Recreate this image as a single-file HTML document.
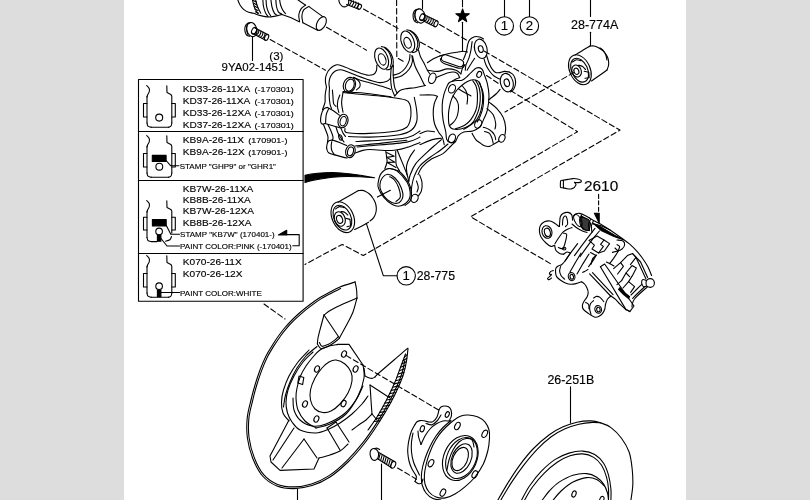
<!DOCTYPE html>
<html><head><meta charset="utf-8"><title>Rear axle parts diagram</title>
<style>
html,body{margin:0;padding:0;background:#ddd;}
body{width:810px;height:500px;overflow:hidden;position:relative;font-family:"Liberation Sans",sans-serif;}
#page{position:absolute;left:124px;top:0;width:562px;height:500px;background:#fff;}
svg{position:absolute;left:0;top:0;transform:translateZ(0);}
svg path,svg ellipse,svg circle,svg rect{fill:none;stroke:#000;stroke-width:1.1;stroke-linecap:round;stroke-linejoin:round;}
svg text{font-family:"Liberation Sans",sans-serif;fill:#000;stroke:#000;stroke-width:0.14;}
svg text.b{stroke:#000;stroke-width:0.15;}
svg .k{fill:#000;}
svg .w{fill:#fff;}
</style></head><body>
<div id="page"></div>
<svg width="810" height="500" viewBox="0 0 810 500">
<!-- p01_table -->
<g>
<rect x="138.5" y="79.5" width="164.6" height="221.8" stroke-width="1.05"/>
<path d="M138.5 131.5 L303.1 131.5" stroke-width="1"/>
<path d="M138.5 180.5 L303.1 180.5" stroke-width="1"/>
<path d="M138.5 253.5 L303.1 253.5" stroke-width="1"/>
<path d="M146.7 85.5C147.1 86.0 148.8 87.5 149.2 88.5C149.6 89.5 149.5 90.5 149.3 91.5C149.1 92.5 148.2 93.6 147.8 94.5C147.4 95.4 147.1 96.6 147.0 97.0" stroke-width="1"/>
<path d="M147.0 96.5L147.0 123.0" stroke-width="1"/>
<path d="M147.0 123.0C147.2 123.5 147.3 125.5 148.0 126.2C148.7 126.9 150.8 127.1 151.4 127.3" stroke-width="1"/>
<path d="M151.4 127.3L168.5 127.3" stroke-width="1"/>
<path d="M168.5 127.3C168.9 127.1 170.4 126.7 171.0 126.0C171.6 125.3 171.7 123.5 171.8 123.0" stroke-width="1"/>
<path d="M171.8 123.0L171.8 96.0L170.8 94.4L167.0 92.6L166.8 85.7" stroke-width="1"/>
<path d="M147.0 103.5L143.5 103.5L143.5 117.0L147.0 117.0" stroke-width="0.9"/>
<path d="M171.8 103.5L175.3 103.5L175.3 117.0L171.8 117.0" stroke-width="0.9" stroke="#777"/>
<ellipse cx="159.2" cy="117.6" rx="3.5" ry="3.5" stroke-width="1"/>
<path d="M146.7 135.5C147.1 136.0 148.8 137.5 149.2 138.5C149.6 139.5 149.5 140.5 149.3 141.5C149.1 142.5 148.2 143.6 147.8 144.5C147.4 145.4 147.1 146.6 147.0 147.0" stroke-width="1"/>
<path d="M147.0 146.5L147.0 173.0" stroke-width="1"/>
<path d="M147.0 173.0C147.2 173.5 147.3 175.5 148.0 176.2C148.7 176.9 150.8 177.1 151.4 177.3" stroke-width="1"/>
<path d="M151.4 177.3L168.5 177.3" stroke-width="1"/>
<path d="M168.5 177.3C168.9 177.1 170.4 176.7 171.0 176.0C171.6 175.3 171.7 173.5 171.8 173.0" stroke-width="1"/>
<path d="M171.8 173.0L171.8 146.0L170.8 144.4L167.0 142.6L166.8 135.7" stroke-width="1"/>
<path d="M147.0 153.5L143.5 153.5L143.5 167.0L147.0 167.0" stroke-width="0.9"/>
<path d="M171.8 153.5L175.3 153.5L175.3 167.0L171.8 167.0" stroke-width="0.9" stroke="#777"/>
<rect x="152.3" y="155.4" width="13.8" height="6.1" class="k" stroke-width="0.5"/>
<ellipse cx="159.3" cy="166.7" rx="3.4" ry="3.4" stroke-width="1"/>
<path d="M166.1 160.5L170.8 165.8L179.0 165.8" stroke-width="1"/>
<path d="M146.7 200.5C147.1 201.0 148.8 202.5 149.2 203.5C149.6 204.5 149.5 205.5 149.3 206.5C149.1 207.5 148.2 208.6 147.8 209.5C147.4 210.4 147.1 211.6 147.0 212.0" stroke-width="1"/>
<path d="M147.0 211.5L147.0 237.5" stroke-width="1"/>
<path d="M147.0 237.5C147.2 238.0 147.3 239.9 148.0 240.6C148.7 241.3 150.8 241.4 151.4 241.6" stroke-width="1"/>
<path d="M151.4 241.6L157.0 241.6" stroke-width="1"/>
<path d="M165.5 241.2C166.2 241.0 168.8 240.6 169.8 239.8C170.8 239.0 171.2 237.1 171.5 236.5" stroke-width="1"/>
<path d="M171.8 233.0L171.8 211.0L170.8 209.4L167.0 207.6L166.8 200.7" stroke-width="1"/>
<path d="M147.0 217.3L143.5 217.3L143.5 230.0L147.0 230.0" stroke-width="0.9"/>
<path d="M171.8 217.3L175.3 217.3L175.3 230.0L171.8 230.0" stroke-width="0.9" stroke="#777"/>
<rect x="152.4" y="219.6" width="13.8" height="6.3" class="k" stroke-width="0.5"/>
<ellipse cx="159.1" cy="231.4" rx="3.3" ry="3.3" stroke-width="1"/>
<rect x="157.4" y="235" width="3.5" height="6.2" class="k" stroke-width="0.5"/>
<path d="M166.2 225.2L170.8 234.2L179.5 234.2" stroke-width="1"/>
<path d="M161.0 238.5L167.0 246.0L179.5 246.0" stroke-width="1"/>
<path d="M146.7 255.5C147.1 256.0 148.8 257.5 149.2 258.5C149.6 259.5 149.5 260.5 149.3 261.5C149.1 262.5 148.2 263.6 147.8 264.5C147.4 265.4 147.1 266.6 147.0 267.0" stroke-width="1"/>
<path d="M147.0 266.5L147.0 293.0" stroke-width="1"/>
<path d="M147.0 293.0C147.2 293.5 147.3 295.5 148.0 296.2C148.7 296.9 150.8 297.1 151.4 297.3" stroke-width="1"/>
<path d="M151.4 297.3L168.5 297.3" stroke-width="1"/>
<path d="M168.5 297.3C168.9 297.1 170.4 296.7 171.0 296.0C171.6 295.3 171.7 293.5 171.8 293.0" stroke-width="1"/>
<path d="M171.8 293.0L171.8 266.0L170.8 264.4L167.0 262.6L166.8 255.7" stroke-width="1"/>
<path d="M147.0 273.5L143.5 273.5L143.5 287.0L147.0 287.0" stroke-width="0.9"/>
<path d="M171.8 273.5L175.3 273.5L175.3 287.0L171.8 287.0" stroke-width="0.9" stroke="#777"/>
<ellipse cx="159.1" cy="286.2" rx="3.3" ry="3.3" stroke-width="1"/>
<rect x="157.4" y="290" width="3.5" height="6.6" class="k" stroke-width="0.5"/>
<path d="M161.0 292.5 L179.5 292.5" stroke-width="1"/>
<text transform="translate(182.8 91.8) scale(1.045 1)" font-size="9.7" text-anchor="start">KD33-26-11XA</text>
<text transform="translate(254.6 91.8) scale(1.145 1)" font-size="7.9" text-anchor="start">(-170301)</text>
<text transform="translate(182.8 103.8) scale(1.045 1)" font-size="9.7" text-anchor="start">KD37-26-11XA</text>
<text transform="translate(254.6 103.8) scale(1.145 1)" font-size="7.9" text-anchor="start">(-170301)</text>
<text transform="translate(182.8 115.8) scale(1.045 1)" font-size="9.7" text-anchor="start">KD33-26-12XA</text>
<text transform="translate(254.6 115.8) scale(1.145 1)" font-size="7.9" text-anchor="start">(-170301)</text>
<text transform="translate(182.8 127.8) scale(1.045 1)" font-size="9.7" text-anchor="start">KD37-26-12XA</text>
<text transform="translate(254.6 127.8) scale(1.145 1)" font-size="7.9" text-anchor="start">(-170301)</text>
<text transform="translate(182.8 142.7) scale(1.045 1)" font-size="9.7" text-anchor="start">KB9A-26-11X</text>
<text transform="translate(248.2 142.7) scale(1.145 1)" font-size="7.9" text-anchor="start">(170901-)</text>
<text transform="translate(182.8 154.9) scale(1.045 1)" font-size="9.7" text-anchor="start">KB9A-26-12X</text>
<text transform="translate(248.2 154.9) scale(1.145 1)" font-size="7.9" text-anchor="start">(170901-)</text>
<text transform="translate(179.7 169.0) scale(1.030 1)" font-size="7.8" text-anchor="start">STAMP &quot;GHP9&quot; or &quot;GHR1&quot;</text>
<text transform="translate(182.8 191.7) scale(1.045 1)" font-size="9.7" text-anchor="start">KB7W-26-11XA</text>
<text transform="translate(182.8 203.0) scale(1.045 1)" font-size="9.7" text-anchor="start">KB8B-26-11XA</text>
<text transform="translate(182.8 214.3) scale(1.045 1)" font-size="9.7" text-anchor="start">KB7W-26-12XA</text>
<text transform="translate(182.8 225.5) scale(1.045 1)" font-size="9.7" text-anchor="start">KB8B-26-12XA</text>
<text transform="translate(180.1 236.6) scale(1.030 1)" font-size="7.8" text-anchor="start">STAMP &quot;KB7W&quot; (170401-)</text>
<text transform="translate(180.1 248.5) scale(1.030 1)" font-size="7.8" text-anchor="start">PAINT COLOR:PINK (-170401)</text>
<text transform="translate(182.8 265.4) scale(1.045 1)" font-size="9.7" text-anchor="start">K070-26-11X</text>
<text transform="translate(182.8 277.0) scale(1.045 1)" font-size="9.7" text-anchor="start">K070-26-12X</text>
<text transform="translate(180.1 295.7) scale(1.030 1)" font-size="7.8" text-anchor="start">PAINT COLOR:WHITE</text>
<path d="M278.4 235.0L286.7 230.3L286.7 235.0Z" stroke-width="0.5" class="k"/>
<path d="M286.7 234.6L299.2 234.6L299.2 245.7L292.8 245.7" stroke-width="1.1"/>
</g>
<!-- p02_labels -->
<g>
<text transform="translate(221.6 71.0) scale(1.000 1)" font-size="11.45" text-anchor="start" class="b">9YA02-1451</text>
<text transform="translate(269.3 60.4) scale(1.000 1)" font-size="11.6" text-anchor="start" class="b">(3)</text>
<path d="M252.5 36.5 L252.5 60.5" stroke-width="1"/>
<path d="M462.6 8.9L464.2 13.6L469.3 13.7L465.3 16.8L466.7 21.6L462.6 18.7L458.5 21.6L459.9 16.8L455.9 13.7L461.0 13.6Z" stroke-width="0.4" class="k"/>
<path d="M462.5 0.0 L462.5 6.8" stroke-width="1"/>
<path d="M462.5 22.2 L462.5 51.0" stroke-width="1"/>
<ellipse cx="504.3" cy="25.9" rx="9.2" ry="9.2" stroke-width="1.1"/>
<text transform="translate(504.3 30.4) scale(1.000 1)" font-size="13.2" text-anchor="middle" class="b">1</text>
<path d="M504.5 0.0 L504.5 16.6" stroke-width="1"/>
<ellipse cx="529.4" cy="25.9" rx="9.2" ry="9.2" stroke-width="1.1"/>
<text transform="translate(529.4 30.4) scale(1.000 1)" font-size="13.2" text-anchor="middle" class="b">2</text>
<path d="M529.5 0.0 L529.5 16.6" stroke-width="1"/>
<text transform="translate(571.0 28.8) scale(1.000 1)" font-size="12.5" text-anchor="start" class="b">28-774A</text>
<path d="M590.5 0.0 L590.5 16.4" stroke-width="1"/>
<path d="M590.5 32.2 L590.5 45.8" stroke-width="1"/>
<ellipse cx="406.2" cy="275.8" rx="9.2" ry="9.2" stroke-width="1.1"/>
<text transform="translate(406.2 280.4) scale(1.000 1)" font-size="13.2" text-anchor="middle" class="b">1</text>
<text transform="translate(416.7 280.1) scale(1.000 1)" font-size="12.3" text-anchor="start" class="b">28-775</text>
<text transform="translate(584.0 191.0) scale(1.000 1)" font-size="15.4" text-anchor="start" class="b">2610</text>
<text transform="translate(547.4 383.9) scale(1.000 1)" font-size="12.4" text-anchor="start" class="b">26-251B</text>
<path d="M570.5 386.8 L570.5 423.0" stroke-width="1"/>
</g>
<!-- p10_rotor -->
<g>
<path d="M497.9 500.0C499.5 497.2 504.2 488.9 507.8 483.1C511.4 477.3 515.3 471.1 519.6 465.3C523.9 459.5 528.5 453.6 533.5 448.5C538.5 443.4 544.4 438.3 549.3 434.7C554.2 431.1 558.5 428.9 563.1 426.8C567.7 424.7 572.3 423.2 576.9 422.2C581.5 421.2 586.8 420.8 590.7 420.9C594.7 421.0 597.2 421.7 600.6 422.8C604.0 423.9 607.5 425.0 611.0 427.6C614.5 430.2 618.5 434.1 621.5 438.2C624.5 442.3 627.4 447.1 629.2 452.3C631.0 457.5 631.6 463.8 632.2 469.3C632.8 474.8 633.0 479.8 632.8 485.1C632.6 490.4 631.1 498.4 630.8 501.0"/>
<path d="M500.9 500.0C502.7 497.0 507.9 487.9 511.7 482.1C515.5 476.3 519.3 470.8 523.6 465.3C527.9 459.8 532.8 453.9 537.4 449.1C542.0 444.3 546.6 440.1 551.2 436.7C555.8 433.3 560.5 430.9 565.1 428.8C569.7 426.7 574.3 425.3 578.9 424.2C583.5 423.1 589.1 422.6 592.7 422.4C596.3 422.2 599.3 422.9 600.6 423.0"/>
<path d="M521.6 500.0C522.9 497.7 526.2 490.8 529.5 486.0C532.8 481.2 537.1 475.6 541.4 471.2C545.7 466.8 550.6 462.4 555.2 459.4C559.8 456.4 564.4 454.5 569.0 453.1C573.6 451.7 578.5 450.9 582.8 451.1C587.1 451.3 591.2 452.4 594.7 454.4C598.2 456.4 601.3 459.8 603.6 463.3C605.9 466.8 607.3 470.9 608.5 475.2C609.7 479.5 610.5 484.9 610.9 489.0C611.3 493.1 610.9 498.2 610.9 500.0"/>
<path d="M524.6 500.0C525.9 497.8 529.2 491.5 532.5 487.0C535.8 482.5 540.2 477.3 544.3 473.2C548.4 469.1 552.9 465.2 557.2 462.3C561.5 459.4 565.7 457.2 570.0 455.8C574.3 454.4 578.8 453.6 582.8 453.9C586.8 454.2 590.6 455.5 593.7 457.4C596.8 459.3 599.5 462.0 601.6 465.3C603.7 468.6 605.4 473.2 606.5 477.2C607.6 481.1 608.2 485.2 608.5 489.0C608.8 492.8 608.5 498.2 608.5 500.0"/>
<path d="M542.3 500.0C543.5 498.5 546.5 494.0 549.3 491.0C552.1 488.0 555.1 484.7 559.1 482.1C563.1 479.5 568.4 476.6 573.0 475.2C577.6 473.8 582.8 473.3 586.8 473.6C590.8 473.9 593.9 475.4 596.7 477.2C599.5 478.9 601.8 481.5 603.6 484.1C605.4 486.7 606.7 490.4 607.5 493.0C608.3 495.6 608.3 498.8 608.5 500.0"/>
<path d="M553.2 500.0C554.5 498.5 557.8 494.0 561.1 491.0C564.4 488.0 568.7 484.3 573.0 482.1C577.3 479.9 582.8 478.0 586.8 477.6C590.8 477.2 593.7 478.1 596.7 479.5C599.7 480.9 603.3 484.9 604.6 486.0"/>
<ellipse cx="574.0" cy="494.0" rx="2.0" ry="3.2" transform="rotate(20.0 574.0 494.0)" stroke-width="1"/>
<ellipse cx="601.8" cy="499.5" rx="2.0" ry="3.2" transform="rotate(20.0 601.8 499.5)" stroke-width="1"/>
</g>
<!-- p11_plate -->
<g>
<path d="M355.0 282.0C352.5 282.8 344.2 285.3 340.0 287.0C335.8 288.7 333.3 290.2 330.0 292.0C326.7 293.8 323.3 295.4 320.0 297.5C316.7 299.6 313.3 302.0 310.0 304.5C306.7 307.0 302.9 310.0 300.0 312.5C297.1 315.0 295.0 317.0 292.5 319.5C290.0 322.0 287.3 324.8 285.0 327.5C282.7 330.2 280.9 332.6 278.8 335.5C276.7 338.4 274.6 341.6 272.5 345.0C270.4 348.4 268.1 351.8 266.0 356.0C263.9 360.2 261.8 365.2 260.0 370.0C258.2 374.8 256.5 380.0 255.0 385.0C253.5 390.0 252.3 394.5 251.0 400.0C249.7 405.5 247.8 411.7 247.2 418.0C246.6 424.3 246.5 431.3 247.4 438.0C248.3 444.7 250.1 451.7 252.6 458.0C255.1 464.3 258.5 471.3 262.6 476.0C266.7 480.7 271.8 483.9 277.0 486.0C282.2 488.1 288.2 488.7 294.0 488.6C299.8 488.5 306.0 487.5 312.0 485.6C318.0 483.7 324.0 480.9 330.0 477.0C336.0 473.1 342.3 467.5 348.0 462.0C353.7 456.5 359.0 450.3 364.0 444.0C369.0 437.7 373.7 430.7 378.0 424.0C382.3 417.3 386.7 410.0 390.0 404.0C393.3 398.0 395.8 393.0 398.0 388.0C400.2 383.0 402.1 378.5 403.5 374.0C404.9 369.5 405.8 365.3 406.5 361.0C407.2 356.7 407.8 350.5 408.0 348.4" stroke-width="1.2"/>
<path d="M340.6 288.6C339.0 289.4 334.1 291.8 330.8 293.5C327.5 295.2 324.2 296.9 320.9 298.9C317.6 301.0 314.3 303.4 311.0 305.9C307.7 308.3 304.0 311.3 301.1 313.8C298.2 316.3 296.2 318.2 293.7 320.7C291.2 323.2 288.5 326.0 286.3 328.6C284.0 331.2 282.2 333.6 280.2 336.5C278.1 339.4 276.1 342.5 273.9 345.9C271.8 349.3 269.6 352.6 267.5 356.8C265.5 360.9 263.4 365.8 261.6 370.6C259.8 375.4 258.1 380.5 256.6 385.5C255.1 390.5 253.9 394.9 252.7 400.4C251.4 405.8 249.5 411.9 248.9 418.2C248.3 424.4 248.2 431.2 249.1 437.8C250.0 444.3 251.7 451.2 254.2 457.4C256.6 463.6 260.0 470.4 263.9 474.9C267.8 479.4 272.6 482.4 277.6 484.4C282.6 486.4 288.3 487.0 294.0 486.9C299.6 486.8 305.6 485.9 311.5 484.0C317.3 482.1 323.2 479.4 329.1 475.6C335.0 471.7 341.2 466.2 346.8 460.8C352.4 455.3 357.7 449.2 362.7 442.9C367.6 436.7 372.3 429.7 376.6 423.1C380.9 416.4 385.2 409.1 388.5 403.2C391.8 397.2 394.2 392.2 396.4 387.3C398.7 382.4 400.5 377.9 401.9 373.5C403.3 369.1 404.3 362.8 404.8 360.7" stroke-width="0.9"/>
<path d="M355.0 281.6C355.3 283.0 356.3 287.3 356.6 290.0C356.9 292.7 356.9 296.7 357.0 298.0"/>
<path d="M357.0 298.0C354.7 299.0 347.3 302.0 343.0 304.0C338.7 306.0 334.2 308.2 331.0 310.0C327.8 311.8 325.2 314.2 324.0 315.0"/>
<path d="M324.0 315.0C323.5 316.8 322.0 322.2 321.0 326.0C320.0 329.8 318.6 335.0 318.0 338.0C317.4 341.0 317.5 343.0 317.4 344.0"/>
<path d="M324.0 315.0L339.4 338.0"/>
<path d="M357.0 298.0C356.3 300.3 354.8 307.3 353.0 312.0C351.2 316.7 348.3 321.7 346.0 326.0C343.7 330.3 340.5 336.0 339.4 338.0"/>
<path d="M317.4 344.0C318.0 344.8 319.2 348.1 321.0 348.5C322.8 348.9 325.7 347.6 328.0 346.5C330.3 345.4 333.1 343.4 335.0 342.0C336.9 340.6 338.7 339.0 339.4 338.4"/>
<path d="M319.4 342.5C319.8 343.1 320.6 346.0 322.0 346.3C323.4 346.6 326.0 345.4 328.0 344.5C330.0 343.6 332.3 341.9 334.0 340.6C335.7 339.4 337.3 337.6 338.0 337.0" stroke-width="0.9"/>
<path d="M338.0 344.4L349.0 344.4L363.0 365.0"/>
<path d="M363.0 365.0C363.2 367.2 364.8 372.8 364.0 378.0C363.2 383.2 361.0 390.0 358.0 396.0C355.0 402.0 350.7 409.3 346.0 414.0C341.3 418.7 335.0 421.7 330.0 424.0C325.0 426.3 318.3 427.3 316.0 428.0"/>
<path d="M316.0 428.0C314.2 426.8 308.0 424.0 305.0 421.0C302.0 418.0 299.5 413.8 298.0 410.0C296.5 406.2 296.2 401.7 296.0 398.0C295.8 394.3 296.2 391.7 297.0 388.0C297.8 384.3 299.0 379.7 300.5 376.0C302.0 372.3 303.9 369.2 306.0 366.0C308.1 362.8 310.7 359.7 313.0 357.0C315.3 354.3 317.3 351.8 320.0 350.0C322.7 348.2 326.0 346.9 329.0 346.0C332.0 345.1 336.5 344.7 338.0 344.4"/>
<path d="M336.0 360.0C338.7 360.3 342.5 362.0 345.0 364.0C347.5 366.0 349.8 369.2 351.0 372.0C352.2 374.8 352.5 377.5 352.0 381.0C351.5 384.5 350.0 389.2 348.0 393.0C346.0 396.8 342.8 401.0 340.0 404.0C337.2 407.0 333.8 409.6 331.0 411.0C328.2 412.4 325.7 412.8 323.0 412.5C320.3 412.2 317.1 411.1 315.0 409.0C312.9 406.9 311.2 403.2 310.5 400.0C309.8 396.8 309.8 393.7 310.5 390.0C311.2 386.3 313.1 381.7 315.0 378.0C316.9 374.3 319.7 370.7 322.0 368.0C324.3 365.3 326.7 363.3 329.0 362.0C331.3 360.7 333.3 359.7 336.0 360.0Z"/>
<ellipse cx="344.0" cy="354.0" rx="2.3" ry="3.3" transform="rotate(25.0 344.0 354.0)" stroke-width="1"/>
<ellipse cx="355.6" cy="369.0" rx="2.3" ry="3.3" transform="rotate(25.0 355.6 369.0)" stroke-width="1"/>
<ellipse cx="317.0" cy="369.0" rx="2.3" ry="3.3" transform="rotate(25.0 317.0 369.0)" stroke-width="1"/>
<ellipse cx="305.0" cy="404.0" rx="2.3" ry="3.3" transform="rotate(25.0 305.0 404.0)" stroke-width="1"/>
<ellipse cx="343.6" cy="403.6" rx="2.3" ry="3.3" transform="rotate(25.0 343.6 403.6)" stroke-width="1"/>
<ellipse cx="316.4" cy="419.0" rx="2.3" ry="3.3" transform="rotate(25.0 316.4 419.0)" stroke-width="1"/>
<path d="M299.0 376.0L303.8 377.6L302.6 384.6L297.8 383.0Z" stroke-width="1"/>
<path d="M313.0 352.0C311.3 353.7 306.2 358.0 303.0 362.0C299.8 366.0 296.5 371.3 294.0 376.0C291.5 380.7 289.3 385.7 288.0 390.0C286.7 394.3 286.1 398.2 286.0 402.0C285.9 405.8 286.5 409.7 287.5 413.0C288.5 416.3 289.9 419.2 292.0 422.0C294.1 424.8 296.0 428.2 300.0 430.0C304.0 431.8 311.3 433.1 316.0 433.0C320.7 432.9 324.0 431.2 328.0 429.5C332.0 427.8 336.0 425.6 340.0 423.0C344.0 420.4 348.3 417.2 352.0 414.0C355.7 410.8 359.3 407.0 362.0 404.0C364.7 401.0 367.0 397.3 368.0 396.0"/>
<path d="M317.0 346.5C315.2 348.1 309.3 352.4 306.0 356.0C302.7 359.6 299.7 363.7 297.0 368.0C294.3 372.3 291.9 377.5 290.0 382.0C288.1 386.5 286.6 390.8 285.5 395.0C284.4 399.2 283.8 405.0 283.5 407.0" stroke-width="0.9"/>
<path d="M293.0 398.0C293.2 400.0 292.8 406.3 294.0 410.0C295.2 413.7 297.0 417.3 300.0 420.0C303.0 422.7 307.7 425.3 312.0 426.0C316.3 426.7 320.7 426.0 326.0 424.0C331.3 422.0 339.0 418.0 344.0 414.0C349.0 410.0 352.8 404.7 356.0 400.0C359.2 395.3 361.8 388.3 363.0 386.0" stroke-width="0.9"/>
<path d="M309.0 350.0C307.2 352.0 301.3 357.7 298.0 362.0C294.7 366.3 291.4 371.3 289.0 376.0C286.6 380.7 284.8 385.7 283.5 390.0C282.2 394.3 281.6 398.2 281.5 402.0C281.4 405.8 281.8 409.8 283.0 413.0C284.2 416.2 288.0 419.7 289.0 421.0" stroke-width="0.9"/>
<path d="M407.5 348.4C405.2 350.3 398.6 356.1 394.0 360.0C389.4 363.9 383.2 369.2 380.0 372.0C376.8 374.8 375.8 376.2 375.0 377.0"/>
<path d="M375.0 377.0C374.5 377.2 373.2 378.3 372.0 378.4C370.8 378.5 369.2 377.8 368.0 377.4C366.8 377.0 365.5 376.2 365.0 376.0"/>
<path d="M365.0 376.0L364.0 368.0"/>
<path d="M370.0 385.0L390.0 398.0"/>
<path d="M370.0 385.0C370.2 387.5 370.7 395.2 371.0 400.0C371.3 404.8 371.8 411.7 372.0 414.0"/>
<path d="M372.0 414.0L377.0 420.0"/>
<path d="M372.0 414.0C371.0 415.0 368.0 418.3 366.0 420.0C364.0 421.7 362.3 422.3 360.0 424.0C357.7 425.7 353.3 429.0 352.0 430.0"/>
<path d="M405.5 354.0C404.8 356.0 402.8 361.3 401.0 366.0C399.2 370.7 397.3 376.5 395.0 382.0C392.7 387.5 390.0 393.2 387.0 399.0C384.0 404.8 380.2 411.8 377.0 417.0C373.8 422.2 369.5 427.8 368.0 430.0" stroke-width="0.9"/>
<path d="M407.2 354.6 L404.3 357.3" stroke-width="0.6"/>
<path d="M406.8 358.2 L403.0 360.7" stroke-width="0.6"/>
<path d="M406.3 361.8 L401.8 364.0" stroke-width="0.6"/>
<path d="M405.5 365.3 L400.5 367.3" stroke-width="0.6"/>
<path d="M404.7 368.8 L399.3 370.7" stroke-width="0.6"/>
<path d="M403.9 372.4 L398.0 374.0" stroke-width="0.6"/>
<path d="M402.8 375.8 L396.8 377.3" stroke-width="0.6"/>
<path d="M401.5 379.2 L395.5 380.7" stroke-width="0.6"/>
<path d="M400.1 382.5 L394.1 383.9" stroke-width="0.6"/>
<path d="M398.8 385.9 L392.6 387.2" stroke-width="0.6"/>
<path d="M397.4 389.2 L391.1 390.4" stroke-width="0.6"/>
<path d="M395.8 392.5 L389.5 393.6" stroke-width="0.6"/>
<path d="M394.1 395.7 L388.0 396.8" stroke-width="0.6"/>
<path d="M392.5 399.0 L386.4 400.0" stroke-width="0.6"/>
<path d="M390.9 402.2 L384.7 403.1" stroke-width="0.6"/>
<path d="M389.2 405.4 L383.0 406.2" stroke-width="0.6"/>
<path d="M387.3 408.5 L381.3 409.3" stroke-width="0.6"/>
<path d="M385.5 411.6 L379.5 412.4" stroke-width="0.6"/>
<path d="M383.6 414.7 L377.8 415.6" stroke-width="0.6"/>
<path d="M381.7 417.8 L375.9 418.6" stroke-width="0.6"/>
<path d="M379.9 420.9 L374.0 421.5" stroke-width="0.6"/>
<path d="M289.0 420.0L270.0 456.0L271.0 462.0L280.0 470.4L314.0 469.0L319.0 458.0"/>
<path d="M319.0 458.0C320.8 457.5 326.5 456.2 330.0 455.0C333.5 453.8 337.0 452.8 340.0 451.0C343.0 449.2 346.7 445.2 348.0 444.0"/>
<path d="M294.0 428.0L273.0 460.0"/>
<path d="M304.0 439.0L282.0 468.0"/>
<path d="M304.0 439.0L317.0 458.0"/>
<path d="M327.0 428.0L340.0 450.0"/>
<path d="M336.0 422.0L349.0 442.0"/>
<path d="M327.0 428.0L336.0 422.0"/>
<path d="M297.5 488.8 L297.5 500.0" stroke-width="1"/>
<path d="M381.5 464.0 L381.5 500.0" stroke-width="1"/>
</g>
<!-- p12_hub -->
<g>
<path d="M468.5 415.0C471.3 415.2 475.2 415.8 478.0 417.0C480.8 418.2 483.5 420.1 485.3 422.3C487.1 424.5 488.3 427.4 489.0 430.0C489.7 432.6 489.7 434.7 489.5 438.0C489.3 441.3 489.1 445.6 488.0 450.0C486.9 454.4 485.4 459.8 483.2 464.3C481.0 468.8 478.1 473.1 475.0 477.0C471.9 480.9 467.6 484.6 464.3 487.4C461.0 490.2 458.1 492.2 455.0 494.0C451.9 495.8 448.6 497.4 445.4 497.9C442.2 498.4 438.7 498.0 436.0 497.0C433.3 496.0 430.8 494.2 429.0 492.0C427.2 489.8 425.8 486.9 425.0 484.0C424.2 481.1 424.2 478.0 424.4 474.8C424.6 471.6 425.3 468.1 426.0 465.0C426.7 461.9 427.4 459.2 428.6 455.9C429.8 452.6 431.3 448.5 433.0 445.0C434.7 441.5 436.8 437.9 439.0 434.9C441.2 431.9 443.5 429.4 446.0 427.0C448.5 424.6 451.3 422.0 453.8 420.2C456.3 418.4 458.6 416.9 461.0 416.0C463.4 415.1 465.7 414.8 468.5 415.0Z" stroke-width="1.2"/>
<path d="M451.0 420.5C449.7 421.7 445.5 424.9 443.0 427.5C440.5 430.1 438.2 432.8 436.0 436.0C433.8 439.2 431.7 443.0 430.0 446.5C428.3 450.0 426.8 453.6 425.6 457.0C424.4 460.4 423.3 463.8 422.6 467.0C421.9 470.2 421.5 473.0 421.4 476.0C421.3 479.0 421.4 482.2 422.2 485.0C423.0 487.8 424.2 490.7 426.0 493.0C427.8 495.3 430.5 497.4 433.0 498.6C435.5 499.8 439.7 499.8 441.0 500.0" stroke-width="1"/>
<ellipse cx="460.3" cy="458.0" rx="16.5" ry="23.5" transform="rotate(24.0 460.3 458.0)" stroke-width="1.1"/>
<ellipse cx="461.5" cy="458.0" rx="14.5" ry="21.5" transform="rotate(24.0 461.5 458.0)" stroke-width="1"/>
<path d="M447.0 470.0C447.3 468.3 448.0 463.3 449.0 460.0C450.0 456.7 451.3 453.0 453.0 450.0C454.7 447.0 456.8 443.9 459.0 442.0C461.2 440.1 463.8 438.8 466.0 438.5C468.2 438.2 470.7 438.6 472.0 440.0C473.3 441.4 473.7 445.8 474.0 447.0" stroke-width="1"/>
<ellipse cx="461.5" cy="458.5" rx="9.5" ry="15.5" transform="rotate(24.0 461.5 458.5)" stroke-width="1.1"/>
<ellipse cx="460.2" cy="459.0" rx="7.2" ry="12.3" transform="rotate(24.0 460.2 459.0)" stroke-width="1"/>
<ellipse cx="457.4" cy="426.0" rx="2.4" ry="3.9" transform="rotate(28.0 457.4 426.0)" stroke-width="1"/>
<ellipse cx="484.7" cy="433.8" rx="2.4" ry="3.9" transform="rotate(28.0 484.7 433.8)" stroke-width="1"/>
<ellipse cx="431.0" cy="463.2" rx="2.4" ry="3.9" transform="rotate(28.0 431.0 463.2)" stroke-width="1"/>
<ellipse cx="474.8" cy="474.4" rx="2.4" ry="3.9" transform="rotate(28.0 474.8 474.4)" stroke-width="1"/>
<ellipse cx="442.9" cy="492.6" rx="2.4" ry="3.9" transform="rotate(28.0 442.9 492.6)" stroke-width="1"/>
<path d="M439.0 409.7C439.3 409.2 440.1 407.6 441.0 407.0C441.9 406.4 443.4 406.0 444.6 406.0C445.9 406.0 447.4 406.1 448.5 406.8C449.6 407.5 450.5 408.5 451.0 410.0C451.5 411.5 451.7 414.2 451.4 416.0C451.1 417.8 449.4 420.2 449.0 421.0" stroke-width="1.1"/>
<ellipse cx="447.3" cy="414.5" rx="1.8" ry="3.0" transform="rotate(25.0 447.3 414.5)" stroke-width="1"/>
<path d="M415.0 424.4C415.3 424.0 416.2 422.4 417.0 421.8C417.8 421.2 418.8 420.8 420.0 420.6C421.2 420.4 422.5 420.6 424.0 420.8C425.5 421.0 427.5 421.9 429.0 422.0C430.5 422.1 431.7 422.4 433.0 421.6C434.3 420.8 436.0 419.0 437.0 417.0C438.0 415.0 438.7 410.9 439.0 409.7" stroke-width="1.1"/>
<ellipse cx="422.3" cy="428.8" rx="2.0" ry="3.2" transform="rotate(20.0 422.3 428.8)" stroke-width="1"/>
<path d="M415.0 424.4C414.4 425.5 412.4 428.7 411.5 431.0C410.6 433.3 410.0 435.5 409.4 438.0C408.8 440.5 408.3 443.5 408.0 446.0C407.7 448.5 407.6 450.5 407.8 453.0C408.0 455.5 408.4 458.5 409.0 461.0C409.6 463.5 410.5 465.8 411.5 468.0C412.5 470.2 414.2 472.5 415.0 474.0C415.8 475.5 416.4 475.8 416.4 477.0C416.4 478.2 415.2 480.8 415.0 481.5" stroke-width="1.1"/>
<path d="M415.0 481.5C415.5 481.8 416.9 483.2 418.0 483.5C419.1 483.8 420.7 483.9 421.5 483.2C422.3 482.4 422.8 479.7 423.0 479.0" stroke-width="1.1"/>
<path d="M418.0 431.0C418.1 432.0 418.1 434.8 418.6 437.0C419.1 439.2 420.6 443.2 421.0 444.5" stroke-width="1"/>
<path d="M421.0 444.5C421.7 443.1 423.5 438.6 425.0 436.0C426.5 433.4 428.2 431.0 430.0 429.0C431.8 427.0 433.8 425.3 436.0 424.0C438.2 422.7 440.8 421.5 443.0 421.0C445.2 420.5 448.0 421.0 449.0 421.0" stroke-width="1"/>
<path d="M413.0 433.0C412.8 434.5 411.8 438.8 411.5 442.0C411.2 445.2 411.2 448.7 411.5 452.0C411.8 455.3 412.6 459.0 413.5 462.0C414.4 465.0 416.0 467.8 417.0 470.0C418.0 472.2 419.1 474.2 419.5 475.0" stroke-width="0.9"/>
<path d="M426.0 423.5C427.0 423.7 430.2 425.2 432.0 424.8C433.8 424.4 435.5 422.6 437.0 421.0C438.5 419.4 440.3 416.0 441.0 415.0" stroke-width="0.9"/>
<path d="M371.5 449.5C372.2 448.9 373.5 448.4 374.5 448.6C375.5 448.8 376.7 449.7 377.4 450.6C378.1 451.5 378.5 452.8 378.6 454.0C378.7 455.2 378.3 457.0 377.8 458.0C377.3 459.0 376.3 459.9 375.4 460.2C374.5 460.5 373.2 460.3 372.4 459.6C371.6 458.9 370.8 457.3 370.4 456.0C370.0 454.7 370.0 453.1 370.2 452.0C370.4 450.9 370.8 450.1 371.5 449.5Z" stroke-width="1.1"/>
<path d="M374.5 448.6C374.9 448.5 376.1 448.0 377.0 448.2C377.9 448.4 379.2 449.4 379.6 449.6" stroke-width="1"/>
<path d="M378.4 452.3L394.5 461.6" stroke-width="1"/>
<path d="M377.6 458.8L391.6 467.8" stroke-width="1"/>
<ellipse cx="393.2" cy="464.8" rx="2.2" ry="3.6" transform="rotate(25.0 393.2 464.8)" stroke-width="1"/>
<path d="M380.2 453.6 L378.6 459.4" stroke-width="0.7"/>
<path d="M382.2 454.8 L380.6 460.6" stroke-width="0.7"/>
<path d="M384.2 456.0 L382.6 461.8" stroke-width="0.7"/>
<path d="M386.2 457.2 L384.6 463.0" stroke-width="0.7"/>
<path d="M388.2 458.4 L386.6 464.2" stroke-width="0.7"/>
<path d="M390.2 459.6 L388.6 465.4" stroke-width="0.7"/>
<path d="M392.2 460.8 L390.6 466.6" stroke-width="0.7"/>
</g>
<!-- p20_knuckle -->
<g>
<path d="M326.5 87.0C326.3 86.0 325.4 83.3 325.4 81.3C325.3 79.3 325.4 77.2 326.2 75.1C326.9 73.0 328.1 70.6 329.9 68.9C331.6 67.2 334.2 65.1 336.7 64.8C339.2 64.5 341.4 65.9 344.8 67.1C348.2 68.3 353.5 70.7 357.2 72.0C360.9 73.3 364.4 74.7 367.1 75.1C369.8 75.5 371.8 75.2 373.3 74.5C374.9 73.8 375.8 72.3 376.4 70.8C377.0 69.2 376.7 66.1 376.8 65.2" stroke-width="1.15"/>
<path d="M329.5 88.0C329.4 87.1 328.8 84.5 329.0 82.6C329.2 80.7 329.5 78.3 330.5 76.4C331.5 74.5 333.3 72.3 334.9 71.2C336.5 70.1 338.4 69.9 340.0 69.8C341.6 69.7 341.9 69.8 344.8 70.8C347.7 71.8 353.1 74.2 357.2 75.8C361.3 77.3 365.9 79.0 369.6 80.1C373.3 81.2 376.6 82.4 379.5 82.6C382.4 82.8 385.2 82.0 387.0 81.3C388.8 80.6 389.7 79.0 390.2 78.5" stroke-width="1"/>
<path d="M353.5 77.2C354.8 77.8 358.3 79.6 361.0 80.5C363.7 81.4 366.1 81.8 369.6 82.8C373.1 83.8 378.5 85.2 382.0 86.3C385.5 87.4 389.2 88.9 390.7 89.4" stroke-width="1"/>
<ellipse cx="349.8" cy="85.2" rx="4.3" ry="6.2" transform="rotate(18.0 349.8 85.2)" stroke-width="2.2"/>
<ellipse cx="349.4" cy="85.0" rx="6.0" ry="7.8" transform="rotate(18.0 349.4 85.0)" stroke-width="1"/>
<path d="M353.5 77.5C354.2 77.9 356.4 78.9 357.5 79.8C358.6 80.7 359.5 81.8 359.9 83.0C360.3 84.2 360.3 85.9 359.7 87.0C359.1 88.1 357.0 89.3 356.5 89.8" stroke-width="1"/>
<path d="M343.0 91.5C344.5 91.6 348.3 91.9 352.0 92.2C355.7 92.5 360.3 92.7 365.0 93.2C369.7 93.7 375.7 94.6 380.0 95.2C384.3 95.8 389.2 96.5 391.0 96.8" stroke-width="1.15"/>
<ellipse cx="381.6" cy="58.6" rx="6.3" ry="11.0" transform="rotate(-20.0 381.6 58.6)" stroke-width="2.1"/>
<ellipse cx="382.2" cy="59.4" rx="3.5" ry="5.9" transform="rotate(-20.0 382.2 59.4)" stroke-width="2.1"/>
<path d="M381.4 46.6C382.2 46.8 384.6 47.1 386.0 48.0C387.4 48.9 388.7 50.3 389.8 51.8C390.9 53.3 391.8 55.3 392.4 57.0C393.0 58.7 393.3 60.4 393.3 62.0C393.3 63.6 393.0 65.3 392.4 66.5C391.8 67.7 390.8 68.7 389.8 69.2C388.8 69.8 387.1 69.7 386.5 69.8" stroke-width="2.0"/>
<path d="M384.5 47.6C385.1 48.2 386.9 49.5 388.0 51.0C389.1 52.5 390.2 54.7 390.8 56.5C391.4 58.3 391.7 60.2 391.6 62.0C391.5 63.8 390.5 66.2 390.3 67.0" stroke-width="1.6"/>
<path d="M391.3 66.5C391.2 68.3 390.6 74.0 390.6 77.6C390.7 81.2 390.9 84.9 391.6 88.0C392.3 91.1 394.2 94.7 394.7 96.0" stroke-width="1.15"/>
<path d="M393.4 65.2C393.4 66.8 393.0 71.6 393.2 75.1C393.4 78.6 393.8 83.3 394.4 86.3C395.0 89.3 396.6 91.9 397.0 93.0" stroke-width="1"/>
<path d="M393.2 75.1C394.2 74.8 397.3 74.5 399.4 73.3C401.5 72.1 404.0 69.9 405.6 67.7C407.2 65.5 408.6 62.5 409.3 60.3C410.0 58.0 409.9 55.2 410.0 54.2" stroke-width="1.15"/>
<path d="M394.4 78.0C395.6 77.6 399.4 77.3 401.9 75.8C404.4 74.3 407.6 71.4 409.3 69.0C411.1 66.6 412.0 63.8 412.4 61.5C412.8 59.2 411.9 56.5 411.8 55.5" stroke-width="1"/>
<ellipse cx="407.7" cy="41.6" rx="6.3" ry="11.0" transform="rotate(-20.0 407.7 41.6)" stroke-width="2.1"/>
<ellipse cx="407.6" cy="42.8" rx="3.4" ry="5.6" transform="rotate(-20.0 407.6 42.8)" stroke-width="2.1"/>
<path d="M406.8 29.9C407.6 30.1 409.9 30.3 411.5 31.2C413.1 32.1 415.0 33.9 416.2 35.4C417.4 36.9 418.1 38.5 418.6 40.0C419.1 41.5 419.4 43.2 419.4 44.6C419.4 46.0 419.2 47.4 418.6 48.5C418.0 49.6 417.0 50.8 416.0 51.5C415.0 52.2 413.1 52.4 412.5 52.6" stroke-width="2.0"/>
<path d="M410.0 30.8C410.8 31.4 413.3 33.1 414.5 34.6C415.7 36.1 416.6 38.3 417.2 40.0C417.8 41.7 417.9 43.4 417.8 45.0C417.7 46.6 416.6 48.8 416.4 49.5" stroke-width="1.6"/>
<path d="M418.4 49.7C418.8 50.9 419.7 54.9 420.6 57.0C421.5 59.1 422.6 60.3 423.7 62.5C424.8 64.7 426.3 68.2 427.4 70.2C428.5 72.2 429.8 73.8 430.3 74.5" stroke-width="1.15"/>
<path d="M412.5 56.0C412.9 57.7 413.8 62.8 415.0 66.0C416.2 69.2 417.9 71.8 419.5 75.0C421.1 78.2 423.8 83.8 424.7 85.5" stroke-width="1"/>
<path d="M394.7 96.0C395.6 95.1 397.9 91.8 400.0 90.6C402.1 89.4 404.5 89.1 407.0 88.6C409.5 88.1 411.9 88.2 415.0 87.7C418.1 87.2 423.8 85.9 425.5 85.5" stroke-width="1.15"/>
<ellipse cx="432.3" cy="78.3" rx="3.5" ry="5.4" transform="rotate(20.0 432.3 78.3)" stroke-width="2.2"/>
<path d="M427.4 62.7C428.3 62.1 430.9 60.1 433.0 59.0C435.1 57.9 438.8 56.4 439.9 55.9" stroke-width="1.15"/>
<path d="M439.9 55.9C441.2 55.5 445.1 54.4 448.0 53.8C450.9 53.2 454.7 52.6 457.2 52.2C459.7 51.8 461.1 51.2 462.8 51.2C464.5 51.2 466.8 51.9 467.6 52.0" stroke-width="1.15"/>
<path d="M445.7 54.7 L461.5 60.1 A3.5 3.5 0 0 1 459.3 66.7 L443.5 61.3 A3.5 3.5 0 0 1 445.7 54.7 Z" stroke-width="1.1"/>
<path d="M440.4 58.5C440.5 59.0 440.5 60.6 441.2 61.5C441.9 62.4 442.7 63.0 444.5 63.8C446.3 64.6 449.6 65.5 452.0 66.2C454.4 66.9 457.2 68.0 459.0 68.2C460.8 68.4 462.0 68.2 463.0 67.6C464.0 67.0 464.7 65.0 465.0 64.5" stroke-width="1.6"/>
<ellipse cx="480.8" cy="48.8" rx="6.2" ry="9.8" transform="rotate(-14.0 480.8 48.8)" stroke-width="2.3"/>
<ellipse cx="480.8" cy="49.1" rx="2.4" ry="3.4" transform="rotate(-14.0 480.8 49.1)" stroke-width="1.9"/>
<path d="M463.4 59.5C463.9 58.2 465.6 54.4 466.3 52.0C467.0 49.6 467.1 47.0 467.6 45.0C468.2 43.0 468.4 41.2 469.6 39.8C470.8 38.4 472.9 37.2 474.6 36.7C476.3 36.2 478.1 36.6 479.6 37.0C481.1 37.4 482.9 38.7 483.5 39.0" stroke-width="1.15"/>
<path d="M472.1 41.6C471.9 43.0 471.4 47.6 470.9 50.3C470.4 53.0 469.8 55.3 469.0 57.8C468.2 60.3 466.5 63.1 465.9 65.2C465.3 67.3 465.4 69.4 465.3 70.2" stroke-width="1"/>
<path d="M474.6 58.4C474.0 59.3 472.1 62.0 470.9 64.0C469.6 66.0 467.7 69.2 467.1 70.2" stroke-width="1"/>
<path d="M486.6 55.5C487.0 56.7 488.0 60.5 488.9 62.7C489.8 64.9 490.9 67.3 492.0 68.9C493.1 70.5 494.4 71.8 495.7 72.4C497.0 73.0 498.6 72.8 500.0 72.6C501.4 72.4 502.8 71.5 504.4 71.4C505.9 71.3 508.5 71.9 509.3 72.0" stroke-width="1.15"/>
<path d="M484.0 58.8C484.3 59.8 485.1 63.0 486.0 65.0C486.9 67.0 488.2 69.2 489.5 71.0C490.8 72.8 492.3 74.7 494.0 76.0C495.7 77.3 498.6 78.5 499.5 79.0" stroke-width="1"/>
<ellipse cx="506.8" cy="82.6" rx="6.3" ry="9.4" transform="rotate(-14.0 506.8 82.6)" stroke-width="2.3"/>
<ellipse cx="506.8" cy="82.8" rx="2.6" ry="3.9" transform="rotate(-14.0 506.8 82.8)" stroke-width="1.9"/>
<path d="M509.3 72.0C509.9 72.4 512.0 73.3 513.0 74.5C514.0 75.7 514.8 77.3 515.2 79.0C515.6 80.7 515.7 82.8 515.4 84.5C515.1 86.2 514.4 88.2 513.6 89.5C512.8 90.8 511.0 91.6 510.5 92.0" stroke-width="1.15"/>
<path d="M500.0 89.5C499.3 90.2 497.5 92.6 496.0 94.0C494.5 95.4 492.2 97.0 491.0 98.0C489.8 99.0 488.9 99.7 488.5 100.0" stroke-width="1.15"/>
<path d="M427.4 70.2C429.1 70.4 434.1 71.6 437.4 71.4C440.7 71.2 444.2 69.1 447.3 68.9C450.4 68.7 453.7 69.4 456.0 70.2C458.3 71.0 460.1 73.3 460.9 73.9" stroke-width="1"/>
<path d="M460.9 73.9C461.1 73.1 461.7 70.5 462.2 68.9C462.7 67.3 463.7 65.2 464.0 64.5" stroke-width="1"/>
<path d="M436.1 77.6C437.6 77.0 442.1 74.8 444.8 73.9C447.5 73.0 450.2 72.1 452.3 72.0C454.4 71.9 456.0 72.4 457.2 73.3C458.4 74.2 459.3 76.9 459.7 77.6" stroke-width="1"/>
<path d="M446.7 87.0C447.6 85.0 448.0 83.5 449.4 82.5C450.8 81.5 452.7 81.1 454.8 80.7C456.9 80.3 460.0 80.9 462.0 80.2C464.0 79.5 465.5 77.9 467.0 76.6C468.5 75.3 469.4 74.0 471.0 72.6C472.6 71.2 474.6 68.6 476.4 68.0C478.2 67.4 480.4 67.8 481.8 69.0C483.2 70.2 483.6 72.9 484.5 75.3C485.4 77.7 486.6 80.0 487.3 83.4C488.1 86.9 489.0 91.5 489.0 96.0C489.0 100.5 488.2 106.5 487.3 110.4C486.4 114.3 484.8 116.7 483.6 119.4C482.4 122.1 481.8 124.7 480.0 126.6C478.2 128.5 475.5 130.1 472.8 131.0C470.1 131.9 466.2 131.2 463.8 132.0C461.4 132.8 459.8 134.1 458.4 135.6C457.0 137.1 457.0 139.8 455.7 141.0C454.4 142.2 451.8 143.1 450.3 142.8C448.8 142.5 447.4 141.0 446.7 139.2C445.9 137.4 446.4 135.3 445.8 132.0C445.2 128.7 443.6 123.9 443.0 119.4C442.4 114.9 442.0 109.2 442.2 105.0C442.4 100.8 443.2 97.2 444.0 94.2C444.8 91.2 445.8 89.0 446.7 87.0Z" stroke-width="1.25"/>
<path d="M453.0 96.0C454.1 93.8 455.5 91.8 457.0 90.0C458.5 88.2 460.2 86.6 462.0 85.2C463.8 83.8 465.7 82.5 467.5 81.6C469.3 80.7 471.2 80.0 472.8 79.8C474.4 79.6 475.8 80.0 477.0 80.6C478.2 81.2 479.1 80.8 480.0 83.4C480.9 86.0 482.5 91.5 482.7 96.0C482.9 100.5 482.2 106.2 481.0 110.4C479.8 114.6 478.1 118.4 475.5 121.2C472.9 124.0 469.1 126.2 465.6 127.5C462.2 128.8 457.5 129.6 454.8 129.3C452.1 129.0 450.4 128.2 449.4 125.7C448.3 123.2 448.4 117.8 448.5 114.0C448.6 110.2 449.6 106.2 450.3 103.2C451.1 100.2 451.9 98.2 453.0 96.0Z" stroke-width="1.1"/>
<path d="M472.8 80.7C473.3 81.6 475.2 84.0 476.0 86.0C476.8 88.0 477.1 90.1 477.3 92.4C477.5 94.7 477.5 97.6 477.4 100.0C477.3 102.4 477.3 104.5 476.8 106.8C476.3 109.0 475.5 111.4 474.5 113.5C473.5 115.6 472.2 117.7 471.0 119.4C469.8 121.1 468.5 122.3 467.0 123.5C465.5 124.7 463.9 125.7 462.0 126.6C460.1 127.5 456.6 128.4 455.5 128.8" stroke-width="1.0"/>
<path d="M475.5 80.2C476.0 81.2 477.9 84.0 478.6 86.0C479.4 88.0 479.7 90.0 480.0 92.4C480.3 94.8 480.4 97.8 480.2 100.5C480.0 103.2 479.6 106.2 479.0 108.6C478.4 111.0 477.7 112.9 476.8 115.0C475.9 117.1 475.0 119.4 473.7 121.2C472.4 123.0 470.6 124.7 469.0 126.0C467.4 127.3 464.7 128.8 463.8 129.3" stroke-width="1.0"/>
<path d="M479.0 82.5C479.5 83.6 481.2 86.8 482.0 89.0C482.8 91.2 483.4 93.6 483.6 96.0C483.8 98.4 483.6 101.1 483.4 103.5C483.2 105.9 482.8 108.2 482.2 110.4C481.6 112.6 480.8 114.7 480.0 116.6C479.2 118.5 477.8 121.1 477.3 122.0" stroke-width="1.8"/>
<path d="M453.0 96.0C453.6 96.7 455.7 98.5 456.6 100.0C457.5 101.5 458.1 103.1 458.4 105.0C458.7 106.9 458.5 109.4 458.2 111.5C457.9 113.6 457.4 115.8 456.6 117.6C455.8 119.4 454.6 121.1 453.4 122.4C452.2 123.8 450.1 125.2 449.4 125.7" stroke-width="1.0"/>
<path d="M458.4 88.8C459.4 89.4 462.5 91.4 464.6 92.6C466.7 93.8 469.9 95.4 471.0 96.0" stroke-width="1.0"/>
<path d="M462.0 85.5C462.7 86.4 465.1 89.1 466.0 91.0C466.9 92.9 467.4 94.8 467.6 97.0C467.8 99.2 467.1 102.8 467.0 104.0" stroke-width="0.9"/>
<ellipse cx="452.0" cy="138.3" rx="3.3" ry="4.4" transform="rotate(25.0 452.0 138.3)" stroke-width="1.8"/>
<ellipse cx="478.2" cy="124.0" rx="3.3" ry="4.5" transform="rotate(25.0 478.2 124.0)" stroke-width="1.8"/>
<ellipse cx="452.0" cy="88.8" rx="3.3" ry="4.4" transform="rotate(25.0 452.0 88.8)" stroke-width="1.8"/>
<ellipse cx="479.2" cy="74.4" rx="2.3" ry="3.1" transform="rotate(25.0 479.2 74.4)" stroke-width="1.5"/>
<path d="M459.7 77.6C459.1 77.8 457.2 78.4 456.0 79.0C454.8 79.6 453.1 80.7 452.5 81.0" stroke-width="1"/>
<path d="M489.5 102.4C490.7 103.4 494.6 106.1 496.9 108.6C499.2 111.1 501.7 114.2 503.1 117.3C504.6 120.4 505.3 124.3 505.6 127.2C505.9 130.1 505.1 133.4 505.0 134.7" stroke-width="1.15"/>
<ellipse cx="501.9" cy="138.4" rx="2.9" ry="3.9" transform="rotate(25.0 501.9 138.4)" stroke-width="1.4"/>
<path d="M499.0 141.0C498.2 141.5 495.6 143.1 494.0 144.0C492.4 144.9 491.1 146.1 489.5 146.4C487.9 146.7 486.2 146.5 484.5 145.8C482.8 145.2 480.9 143.5 479.5 142.5C478.1 141.5 477.0 141.1 475.8 139.6C474.6 138.1 472.7 134.4 472.1 133.4" stroke-width="1.15"/>
<path d="M487.0 108.6C488.0 109.6 491.8 112.3 493.2 114.8C494.6 117.3 495.4 121.1 495.7 123.5C496.0 125.9 495.1 128.1 495.0 129.0" stroke-width="1"/>
<path d="M483.3 127.2C484.3 127.6 487.6 128.4 489.5 129.7C491.4 130.9 493.4 133.0 494.4 134.7C495.4 136.3 495.5 138.8 495.7 139.6" stroke-width="1"/>
<path d="M484.5 131.5C485.3 131.8 488.2 132.2 489.5 133.4C490.8 134.6 491.4 136.8 492.0 138.4C492.6 140.1 493.0 142.5 493.2 143.3" stroke-width="1"/>
<path d="M420.0 95.0C422.1 95.0 429.5 94.8 432.4 95.0C435.3 95.2 436.6 96.2 437.4 96.4" stroke-width="1.15"/>
<path d="M437.4 96.4C436.9 97.7 434.9 101.1 434.2 104.0C433.5 106.9 433.1 110.7 433.2 114.0C433.3 117.3 433.7 121.0 434.6 124.0C435.5 127.0 437.3 130.0 438.6 132.2C439.9 134.4 441.4 135.0 442.3 137.1C443.2 139.2 443.9 143.3 444.2 144.6" stroke-width="1.15"/>
<path d="M420.0 133.6C421.2 133.2 425.0 131.3 427.4 131.0C429.8 130.7 433.3 131.7 434.5 131.8" stroke-width="1"/>
<path d="M420.0 144.6C422.1 143.8 428.8 140.7 432.4 139.6C436.0 138.5 440.0 138.4 441.5 138.2" stroke-width="1"/>
<path d="M448.0 144.0C446.7 145.1 443.0 148.3 440.0 150.5C437.0 152.7 433.6 154.6 430.2 157.2C426.8 159.8 422.5 162.8 419.8 166.0C417.1 169.2 415.5 173.1 414.2 176.4C412.9 179.7 412.3 183.1 411.8 186.0C411.3 188.9 411.3 192.7 411.2 194.0" stroke-width="1.15"/>
<path d="M455.7 141.5C454.9 142.2 453.1 144.0 451.0 146.0C448.9 148.0 446.2 151.5 443.0 153.6C439.8 155.7 435.3 156.6 431.8 158.8C428.3 161.0 424.5 164.2 422.2 166.8C419.9 169.4 418.7 173.3 418.0 174.6" stroke-width="1.15"/>
<path d="M441.4 139.6C440.2 140.7 436.4 143.9 434.0 146.0C431.6 148.1 430.0 149.5 427.0 152.4C424.0 155.3 418.6 159.9 415.8 163.6C413.0 167.3 411.4 171.7 410.2 174.8C409.0 177.9 409.0 180.8 408.8 182.0" stroke-width="1"/>
<path d="M343.0 92.5C342.8 94.2 341.6 99.1 341.6 102.4C341.6 105.7 342.8 110.7 343.0 112.3" stroke-width="1.15"/>
<path d="M343.0 92.5C346.7 92.9 357.7 94.1 365.0 94.8C372.3 95.5 380.2 95.9 387.0 96.8C393.8 97.7 401.8 98.6 405.6 99.9C409.4 101.2 409.1 102.7 410.0 104.9C410.9 107.1 411.0 110.3 411.0 113.0C411.0 115.7 410.7 118.6 410.0 121.0C409.3 123.4 409.0 125.5 406.8 127.2C404.6 128.9 403.2 130.0 397.0 131.0C390.8 132.0 377.9 133.1 369.6 133.4C361.3 133.7 351.4 133.6 347.3 132.8C343.2 132.0 345.4 129.2 345.0 128.5" stroke-width="1.15"/>
<path d="M414.3 97.4C414.7 99.5 416.2 106.1 416.6 110.0C417.0 113.9 417.6 117.7 416.8 121.0C416.0 124.3 414.7 127.4 411.8 129.7C408.9 132.0 406.4 133.5 399.4 134.7C392.4 135.9 378.1 136.8 369.6 137.1C361.1 137.4 352.0 136.6 348.5 136.5" stroke-width="1"/>
<path d="M420.0 131.0C417.8 132.1 415.2 136.2 406.8 137.8C398.4 139.5 378.1 140.3 369.6 140.9C361.1 141.5 358.3 141.4 356.0 141.5" stroke-width="1"/>
<path d="M420.0 137.1C417.8 137.9 415.2 140.6 406.8 142.1C398.4 143.6 377.9 145.0 369.6 145.8C361.3 146.6 359.3 146.8 357.2 147.0" stroke-width="1"/>
<ellipse cx="343.0" cy="121.0" rx="4.9" ry="6.8" transform="rotate(15.0 343.0 121.0)" stroke-width="2.2"/>
<ellipse cx="343.2" cy="121.2" rx="3.0" ry="4.8" transform="rotate(15.0 343.2 121.2)" stroke-width="1"/>
<path d="M339.5 115.2C338.4 114.4 335.0 111.8 333.0 110.5C331.0 109.2 328.3 107.9 327.4 107.4" stroke-width="1.15"/>
<path d="M340.5 128.0C339.1 127.6 334.6 126.2 332.0 125.5C329.4 124.8 326.2 123.8 325.0 123.5" stroke-width="1.15"/>
<path d="M327.4 107.4C326.8 107.7 324.6 107.9 323.6 109.2C322.6 110.5 321.7 113.0 321.2 115.0C320.7 117.0 320.5 119.7 320.6 121.2C320.7 122.7 321.3 123.6 322.0 124.0C322.7 124.4 324.5 123.6 325.0 123.5" stroke-width="1.15"/>
<path d="M328.7 108.6C328.3 109.6 326.7 112.5 326.2 114.8C325.7 117.1 325.7 121.3 325.6 122.6" stroke-width="1"/>
<path d="M326.5 87.0C326.3 88.3 325.4 92.4 325.2 95.0C324.9 97.6 325.4 100.0 325.0 102.4C324.6 104.8 322.9 108.3 322.5 109.5" stroke-width="1.15"/>
<path d="M332.4 90.0C332.5 91.2 332.8 94.7 333.0 97.0C333.2 99.3 333.1 102.0 333.6 103.6C334.1 105.2 335.6 105.9 336.0 106.4" stroke-width="1"/>
<path d="M339.9 95.0C339.6 95.8 338.4 98.2 338.0 100.0C337.6 101.8 337.3 103.9 337.4 106.0C337.5 108.1 338.6 111.4 338.8 112.5" stroke-width="1"/>
<path d="M329.5 88.0C329.4 89.3 329.1 93.3 329.2 96.0C329.3 98.7 329.6 101.9 330.0 104.0C330.4 106.1 331.2 107.8 331.5 108.5" stroke-width="1"/>
<path d="M323.5 124.5C323.9 125.6 325.2 128.9 326.0 131.0C326.8 133.1 327.8 135.1 328.0 137.0C328.2 138.9 327.5 141.6 327.4 142.5" stroke-width="1.15"/>
<path d="M328.0 124.5C328.5 125.6 330.2 128.9 331.0 131.0C331.8 133.1 332.8 135.4 333.0 137.0C333.2 138.6 332.5 139.9 332.4 140.5" stroke-width="1"/>
<path d="M336.0 127.0C336.3 128.0 337.2 131.2 338.0 133.0C338.8 134.8 340.0 136.5 341.0 138.0C342.0 139.5 343.5 141.3 344.0 142.0" stroke-width="1"/>
<path d="M341.0 128.2C341.3 129.0 342.2 131.6 343.0 133.0C343.8 134.4 345.1 135.9 345.5 136.5" stroke-width="1"/>
<ellipse cx="340.5" cy="137.5" rx="1.6" ry="2.8" transform="rotate(-20.0 340.5 137.5)" stroke-width="0.9"/>
<ellipse cx="350.4" cy="151.2" rx="4.7" ry="6.5" transform="rotate(15.0 350.4 151.2)" stroke-width="2.2"/>
<ellipse cx="350.5" cy="151.4" rx="2.9" ry="4.5" transform="rotate(15.0 350.5 151.4)" stroke-width="1"/>
<path d="M346.7 145.6C345.4 145.0 341.4 143.1 339.0 142.2C336.6 141.3 333.5 140.4 332.4 140.0" stroke-width="1.15"/>
<path d="M347.3 158.0C346.2 157.8 343.1 157.1 341.0 156.6C338.9 156.1 335.9 155.2 334.9 154.9" stroke-width="1.15"/>
<path d="M332.4 140.0C331.8 140.2 329.5 140.2 328.6 141.0C327.7 141.8 327.2 143.6 326.9 145.0C326.6 146.4 326.5 148.2 326.9 149.5C327.2 150.8 327.7 152.1 329.0 153.0C330.3 153.9 333.9 154.6 334.9 154.9" stroke-width="1.15"/>
<path d="M331.8 141.5C331.7 142.2 331.2 144.5 331.2 146.0C331.2 147.5 331.3 149.2 331.8 150.5C332.3 151.8 333.6 153.4 334.0 154.0" stroke-width="1"/>
<path d="M355.0 146.0C357.3 145.7 364.5 144.9 369.0 144.4C373.5 143.9 375.7 143.8 382.0 143.1C388.3 142.4 402.7 140.7 406.8 140.2" stroke-width="1"/>
<path d="M355.4 153.0C356.5 152.6 359.6 151.2 362.0 150.6C364.4 150.0 365.9 149.5 369.6 149.5C373.4 149.5 380.1 150.4 384.5 150.5C388.9 150.6 392.3 150.5 396.0 150.0C399.7 149.5 402.8 148.7 406.8 147.4C410.8 146.2 417.8 143.3 420.0 142.5" stroke-width="1.15"/>
<path d="M385.8 151.2C385.9 152.2 386.4 155.2 386.6 157.0C386.8 158.8 387.3 160.3 387.0 162.3C386.7 164.3 385.2 167.7 384.8 168.8" stroke-width="1.15"/>
<path d="M395.7 151.2C395.7 152.3 395.7 155.7 395.8 158.0C395.9 160.3 395.7 162.6 396.3 164.8C396.9 167.0 399.1 170.1 399.6 171.2" stroke-width="1.15"/>
<path d="M386.6 152.5L394.2 156.2L386.8 157.4L394.8 162.2L387.2 162.4L396.0 167.4" stroke-width="1"/>
<path d="M397.2 150.0C398.0 152.1 400.5 158.3 402.2 162.4C403.9 166.5 406.0 171.7 407.1 174.8C408.2 177.9 408.4 180.0 408.6 181.0" stroke-width="1"/>
<path d="M414.6 150.0C413.8 151.2 411.0 154.7 409.6 157.4C408.2 160.1 406.9 163.2 406.5 166.1C406.1 169.0 407.0 173.4 407.1 174.8" stroke-width="1"/>
<path d="M378.0 183.5C378.4 181.0 379.2 176.1 381.0 173.6C382.8 171.1 385.8 169.0 388.5 168.6C391.2 168.2 394.1 168.8 397.2 171.1C400.3 173.4 404.9 178.8 407.1 182.3C409.3 185.8 409.9 189.3 410.2 192.2C410.5 195.1 410.5 197.3 409.0 199.6C407.5 201.9 403.8 205.0 401.0 205.8C398.2 206.6 395.2 206.1 392.3 204.6C389.4 203.1 385.9 199.8 383.6 197.1C381.3 194.4 379.5 190.8 378.6 188.5C377.7 186.2 377.6 186.0 378.0 183.5Z" stroke-width="1.5"/>
<path d="M379.9 184.7C380.1 182.5 381.2 179.2 382.5 177.5C383.8 175.8 385.8 174.1 387.9 174.2C390.0 174.3 392.8 175.8 395.0 178.0C397.2 180.2 399.7 184.0 401.0 187.2C402.3 190.4 403.4 194.4 402.8 197.1C402.2 199.8 399.8 202.9 397.2 203.3C394.6 203.7 390.0 201.7 387.3 199.6C384.6 197.5 382.3 193.4 381.1 190.9C379.9 188.4 379.7 186.9 379.9 184.7Z" stroke-width="1"/>
<path d="M389.8 176.7C390.6 177.2 393.1 178.2 394.5 180.0C395.9 181.8 397.5 184.3 398.5 187.2C399.5 190.0 400.7 194.7 400.3 197.1C399.9 199.5 396.7 200.8 396.0 201.5" stroke-width="1"/>
<path d="M389.8 168.6C391.4 169.1 396.5 169.2 399.7 171.7C402.9 174.2 407.0 179.9 409.0 183.5C411.0 187.1 411.3 190.5 411.5 193.4C411.7 196.3 411.3 198.9 410.2 200.9C409.1 202.9 405.9 204.7 405.0 205.5" stroke-width="1"/>
<ellipse cx="414.6" cy="198.4" rx="3.4" ry="4.2" transform="rotate(25.0 414.6 198.4)" stroke-width="1.7"/>
<path d="M419.6 174.8C420.0 176.1 421.7 179.6 422.0 182.3C422.3 185.0 422.0 188.6 421.4 190.9C420.8 193.2 418.8 195.1 418.3 195.9" stroke-width="1.15"/>
<path d="M416.5 181.0C416.8 182.0 418.2 185.4 418.3 187.2C418.4 189.0 417.2 191.2 417.0 192.0" stroke-width="1"/>
<path d="M377.4 197.1 L390.4 190.3" stroke-width="1"/>
</g>
<!-- p30_bushings -->
<g>
<path d="M575.0 55.0C576.2 54.2 580.0 52.0 582.5 50.5C585.0 49.0 588.8 46.8 590.0 46.0" stroke-width="1.1"/>
<path d="M590.0 46.0C590.7 46.0 592.7 45.8 594.0 46.0C595.3 46.2 596.7 46.8 598.0 47.5C599.3 48.2 600.8 49.1 602.0 50.0C603.2 50.9 604.1 51.8 605.0 53.0C605.9 54.2 606.9 55.6 607.5 57.0C608.1 58.4 608.5 60.0 608.6 61.5C608.8 63.0 608.7 64.6 608.4 66.0C608.1 67.4 607.2 69.3 607.0 70.0" stroke-width="1.2"/>
<path d="M591.5 81.0C592.8 80.1 596.4 77.6 599.0 75.8C601.6 74.0 605.7 71.0 607.0 70.0" stroke-width="1.1"/>
<path d="M600.0 47.8C600.6 48.3 602.6 49.7 603.6 51.0C604.6 52.3 605.5 54.0 606.0 55.5C606.5 57.0 606.8 59.2 606.9 60.0" stroke-width="0.9"/>
<ellipse cx="579.9" cy="69.8" rx="10.2" ry="15.8" transform="rotate(-25.0 579.9 69.8)" stroke-width="1.9"/>
<ellipse cx="579.6" cy="70.2" rx="8.0" ry="12.6" transform="rotate(-25.0 579.6 70.2)" stroke-width="1.1"/>
<ellipse cx="576.6" cy="71.0" rx="4.6" ry="6.2" transform="rotate(-20.0 576.6 71.0)" stroke-width="1.6"/>
<ellipse cx="576.4" cy="71.3" rx="2.4" ry="3.2" transform="rotate(-20.0 576.4 71.3)" stroke-width="1.4"/>
<path d="M578.5 65.2C579.2 65.4 581.3 65.8 582.5 66.5C583.7 67.2 585.0 69.0 585.5 69.5" stroke-width="1"/>
<path d="M584.2 71.2L588.8 72.2L589.2 77.8L585.0 78.2" stroke-width="1"/>
<path d="M572.5 62.0C573.2 61.6 575.1 60.0 576.5 59.8C577.9 59.6 580.2 60.6 581.0 60.8" stroke-width="0.9"/>
<path d="M338.0 202.2C339.7 201.2 344.6 198.4 348.0 196.5C351.4 194.6 356.7 191.6 358.4 190.6" stroke-width="1.1"/>
<path d="M358.4 190.6C359.0 190.6 360.8 190.3 362.0 190.4C363.2 190.5 364.4 190.8 365.6 191.4C366.9 192.0 368.3 192.9 369.5 194.0C370.7 195.1 371.9 196.6 372.8 198.0C373.8 199.4 374.6 200.9 375.2 202.5C375.8 204.1 376.2 206.0 376.3 207.6C376.4 209.2 376.3 210.6 376.0 212.0C375.7 213.4 375.2 214.8 374.6 216.0C374.0 217.2 373.3 218.2 372.5 219.0C371.7 219.8 370.4 220.7 370.0 221.0" stroke-width="1.2"/>
<path d="M354.6 229.6C355.8 229.0 359.2 227.4 361.5 226.2C363.8 225.0 367.3 222.9 368.5 222.2" stroke-width="1.1"/>
<ellipse cx="342.8" cy="217.2" rx="10.6" ry="16.2" transform="rotate(-25.0 342.8 217.2)" stroke-width="1.9"/>
<ellipse cx="342.4" cy="217.6" rx="8.4" ry="13.0" transform="rotate(-25.0 342.4 217.6)" stroke-width="1.1"/>
<ellipse cx="339.8" cy="219.0" rx="5.3" ry="7.4" transform="rotate(-20.0 339.8 219.0)" stroke-width="1.6"/>
<ellipse cx="339.6" cy="219.4" rx="2.9" ry="4.1" transform="rotate(-20.0 339.6 219.4)" stroke-width="1.3"/>
<path d="M341.0 211.6C341.6 211.7 343.5 211.6 344.6 212.2C345.7 212.8 347.3 214.5 347.8 215.0" stroke-width="1"/>
<path d="M345.6 218.2L350.0 219.4L350.6 225.8L347.0 226.8" stroke-width="1"/>
<path d="M335.5 209.0C336.2 208.6 338.1 206.8 339.5 206.6C340.9 206.4 343.2 207.4 344.0 207.6" stroke-width="0.9"/>
<path d="M366.4 223.6L383.3 275.7L397.0 275.7" stroke-width="1.1"/>
</g>
<!-- p31_shaft_bolts -->
<g>
<path d="M237.5 -1.0C237.9 0.0 239.0 3.3 240.0 5.0C241.0 6.7 242.2 8.1 243.6 9.3C245.0 10.5 246.9 11.7 248.6 12.3C250.2 13.0 251.7 12.7 253.5 13.2C255.3 13.7 257.4 14.8 259.7 15.4C261.9 16.0 264.6 16.7 267.0 16.9C269.4 17.1 271.5 16.8 274.0 16.4C276.5 16.0 280.6 14.7 281.9 14.4" stroke-width="1.2"/>
<path d="M252.3 -1.0C252.5 -0.2 253.0 2.4 253.4 4.0C253.8 5.6 254.3 7.0 255.0 8.6C255.7 10.2 257.3 12.6 257.8 13.4" stroke-width="1.3"/>
<path d="M255.4 -1.0C255.6 -0.1 256.3 2.7 256.8 4.4C257.3 6.1 257.9 7.5 258.6 9.0C259.3 10.5 260.4 12.5 260.8 13.2" stroke-width="1.1"/>
<path d="M253.2 0.5 L256.4 2.1" stroke-width="0.7"/>
<path d="M253.8 3.3 L256.9 4.9" stroke-width="0.7"/>
<path d="M254.3 6.1 L257.5 7.7" stroke-width="0.7"/>
<path d="M254.8 8.9 L258.0 10.5" stroke-width="0.7"/>
<path d="M255.4 11.7 L258.6 13.3" stroke-width="0.7"/>
<path d="M262.8 -1.0C262.9 0.2 263.0 3.7 263.4 6.0C263.8 8.3 264.6 10.8 265.4 12.6C266.2 14.4 267.6 15.9 268.0 16.6" stroke-width="1.4"/>
<path d="M266.0 -1.0C266.1 0.2 266.2 4.2 266.6 6.4C267.0 8.6 267.7 10.5 268.4 12.0C269.1 13.5 270.2 15.0 270.6 15.6" stroke-width="1"/>
<path d="M270.8 -1.0C271.0 0.3 271.4 4.6 272.0 7.0C272.6 9.4 273.6 12.0 274.5 13.4C275.4 14.8 277.1 15.2 277.6 15.6" stroke-width="1.4"/>
<path d="M275.8 -1.0C275.9 0.2 276.0 3.9 276.4 6.0C276.8 8.1 277.3 10.2 278.2 11.6C279.1 13.0 281.3 13.9 281.9 14.4" stroke-width="1.4"/>
<path d="M279.5 -1.0C279.7 0.0 280.0 3.1 280.6 5.0C281.2 6.9 282.2 9.1 283.0 10.5C283.8 11.9 285.2 13.1 285.6 13.6" stroke-width="1"/>
<path d="M281.9 14.4C283.3 14.9 287.6 16.3 290.5 17.5C293.4 18.7 297.9 21.1 299.4 21.8" stroke-width="1.2"/>
<path d="M296.7 -1.0L305.6 5.2" stroke-width="1.2"/>
<path d="M305.6 5.2C304.9 5.8 302.3 7.0 301.2 8.6C300.1 10.2 299.1 12.6 298.8 14.8C298.5 17.0 299.5 20.6 299.6 21.8" stroke-width="1.2"/>
<path d="M309.0 6.4C308.1 7.0 304.9 8.3 303.7 9.9C302.5 11.5 302.0 13.8 301.9 16.0C301.8 18.1 302.7 21.7 302.9 22.8" stroke-width="1.1"/>
<path d="M309.0 6.6L322.8 16.6" stroke-width="1.2"/>
<path d="M302.9 22.8L318.0 30.4" stroke-width="1.2"/>
<ellipse cx="321.3" cy="23.5" rx="4.2" ry="7.4" transform="rotate(28.0 321.3 23.5)" stroke-width="1.1"/>
<ellipse cx="251.8" cy="29.6" rx="5.0" ry="7.2" transform="rotate(-15.0 251.8 29.6)" stroke-width="1.6"/>
<path d="M250.3 22.7C249.8 22.9 248.1 23.0 247.2 23.6C246.4 24.2 245.6 25.2 245.2 26.4C244.8 27.7 244.8 29.7 245.0 31.1C245.2 32.5 245.7 33.9 246.4 34.8C247.1 35.7 248.9 36.1 249.4 36.4" stroke-width="1.2"/>
<path d="M247.4 24.0C247.3 24.8 246.6 26.9 246.6 28.6C246.6 30.3 247.4 33.3 247.6 34.2" stroke-width="0.9"/>
<path d="M255.0 27.9 L268.0 34.7" stroke-width="1.1"/>
<path d="M252.2 33.2 L265.2 40.1" stroke-width="1.1"/>
<ellipse cx="266.6" cy="37.4" rx="1.8" ry="3.2" transform="rotate(25.0 266.6 37.4)" stroke-width="1.1"/>
<ellipse cx="254.0" cy="30.8" rx="2.2" ry="3.6" transform="rotate(25.0 254.0 30.8)" stroke-width="1.2"/>
<path d="M256.9 28.9C256.8 29.4 256.8 31.1 256.3 32.0C255.8 32.9 254.5 33.8 254.1 34.2" stroke-width="0.8"/>
<path d="M258.9 30.0C258.8 30.5 258.8 32.2 258.3 33.1C257.9 33.9 256.5 34.9 256.2 35.3" stroke-width="0.8"/>
<path d="M261.0 31.0C260.9 31.6 260.8 33.2 260.4 34.1C259.9 35.0 258.6 36.0 258.2 36.4" stroke-width="0.8"/>
<path d="M263.0 32.1C262.9 32.6 262.9 34.3 262.4 35.2C261.9 36.1 260.6 37.1 260.2 37.4" stroke-width="0.8"/>
<path d="M265.1 33.2C265.0 33.7 264.9 35.4 264.5 36.3C264.0 37.2 262.6 38.1 262.3 38.5" stroke-width="0.8"/>
<ellipse cx="420.0" cy="16.0" rx="5.0" ry="7.2" transform="rotate(-15.0 420.0 16.0)" stroke-width="1.6"/>
<path d="M418.5 9.1C418.0 9.3 416.2 9.4 415.4 10.0C414.5 10.6 413.8 11.6 413.4 12.8C413.0 14.1 413.0 16.1 413.2 17.5C413.4 18.9 413.9 20.3 414.6 21.2C415.3 22.1 417.1 22.5 417.6 22.8" stroke-width="1.2"/>
<path d="M415.6 10.4C415.5 11.2 414.8 13.3 414.8 15.0C414.8 16.7 415.6 19.7 415.8 20.6" stroke-width="0.9"/>
<path d="M423.1 14.2 L437.3 21.1" stroke-width="1.1"/>
<path d="M420.5 19.6 L434.7 26.5" stroke-width="1.1"/>
<ellipse cx="436.0" cy="23.8" rx="1.8" ry="3.2" transform="rotate(25.0 436.0 23.8)" stroke-width="1.1"/>
<ellipse cx="422.2" cy="17.1" rx="2.2" ry="3.6" transform="rotate(25.0 422.2 17.1)" stroke-width="1.2"/>
<path d="M425.1 15.1C425.0 15.7 425.0 17.3 424.6 18.2C424.1 19.1 422.8 20.2 422.5 20.5" stroke-width="0.8"/>
<path d="M427.2 16.2C427.1 16.7 427.1 18.3 426.7 19.2C426.2 20.1 424.9 21.2 424.5 21.5" stroke-width="0.8"/>
<path d="M429.2 17.2C429.1 17.7 429.2 19.4 428.7 20.3C428.3 21.1 426.9 22.2 426.6 22.6" stroke-width="0.8"/>
<path d="M431.3 18.2C431.2 18.7 431.2 20.4 430.8 21.3C430.3 22.2 429.0 23.2 428.7 23.6" stroke-width="0.8"/>
<path d="M433.4 19.2C433.3 19.7 433.3 21.4 432.9 22.3C432.4 23.2 431.1 24.2 430.7 24.6" stroke-width="0.8"/>
<ellipse cx="343.8" cy="0.6" rx="4.8" ry="6.4" transform="rotate(-15.0 343.8 0.6)" stroke-width="1.5"/>
<path d="M347.5 -0.6 L360.6 4.6" stroke-width="1.1"/>
<path d="M346.6 4.6 L358.2 9.0" stroke-width="1.1"/>
<ellipse cx="359.6" cy="6.8" rx="1.7" ry="2.6" transform="rotate(25.0 359.6 6.8)" stroke-width="1.1"/>
<path d="M351.0 -0.2C351.0 0.2 351.5 1.3 351.2 2.2C350.9 3.1 349.7 4.5 349.4 5.0" stroke-width="0.8"/>
<path d="M353.4 0.8C353.4 1.2 353.9 2.3 353.6 3.2C353.3 4.1 352.1 5.5 351.8 6.0" stroke-width="0.8"/>
<path d="M355.8 1.8C355.8 2.2 356.3 3.3 356.0 4.2C355.7 5.1 354.5 6.5 354.2 7.0" stroke-width="0.8"/>
<path d="M358.2 2.8C358.2 3.2 358.7 4.3 358.4 5.2C358.1 6.1 356.9 7.5 356.6 8.0" stroke-width="0.8"/>
<path d="M422.5 0.0 L422.5 9.0" stroke-width="1"/>
</g>
<!-- p32_dashed -->
<g>
<path d="M270.2 39.5L325.5 70.2" stroke-dasharray="5.5 3"/>
<path d="M326.5 27.2L366.5 50.2" stroke-dasharray="5.5 3"/>
<path d="M363.5 9.0L400.5 29.8" stroke-dasharray="5.5 3"/>
<path d="M420.5 42.2L442.5 54.2" stroke-dasharray="5.5 3"/>
<path d="M396.6 0.0L396.8 57.8L404.4 61.8" stroke-dasharray="5.5 3"/>
<path d="M439.5 24.6L467.5 40.6" stroke-dasharray="5.5 3"/>
<path d="M484.5 51.2L620.0 130.1L470.6 216.8L551.0 264.0" stroke-dasharray="5.5 3"/>
<path d="M486.5 75.5L498.5 83.5" stroke-dasharray="5.5 3"/>
<path d="M510.5 90.5L577.5 131.7L363.3 255.6L342.2 244.4L305.0 264.4" stroke-dasharray="5.5 3"/>
<path d="M574.0 72.4L505.0 112.0" stroke-dasharray="5.5 3"/>
<path d="M264.0 304.0L285.0 319.0" stroke-dasharray="5.5 3"/>
<path d="M346.0 355.4L441.0 411.4" stroke-dasharray="5.5 3"/>
<path d="M397.5 468.0L416.5 479.2" stroke-dasharray="5.5 3"/>
</g>
<!-- p33_swoosh -->
<g>
<path d="M305 175.3 C312 173.6 322 172.5 332.4 172.5 C345 172.7 358 174.6 374.6 177.8 C358 176.4 345 175.9 332.4 177.2 C322 178.4 312 180.0 305 182.6 Z" class="k" stroke-width="0.6"/>
</g>
<!-- p40_caliper -->
<g>
<path d="M559.0 226.5C558.3 226.0 556.5 224.4 555.0 223.5C553.5 222.6 551.8 221.2 550.0 221.0C548.2 220.8 545.6 221.2 544.0 222.0C542.4 222.8 541.2 224.1 540.4 225.6C539.6 227.1 539.3 229.1 539.4 231.0C539.5 232.9 539.9 235.0 541.0 237.0C542.1 239.0 544.3 241.4 546.0 243.0C547.7 244.6 549.6 246.0 551.0 246.4C552.4 246.8 554.0 245.4 554.6 245.2" stroke-width="1.2"/>
<ellipse cx="547.0" cy="232.0" rx="4.9" ry="6.4" transform="rotate(-15.0 547.0 232.0)" stroke-width="2.0"/>
<ellipse cx="547.4" cy="232.4" rx="2.9" ry="4.3" transform="rotate(-15.0 547.4 232.4)" stroke-width="1.0"/>
<path d="M559.5 226.5C559.5 225.6 559.6 222.7 559.8 221.0C559.9 219.3 559.9 217.8 560.4 216.5C560.9 215.2 561.7 214.1 563.0 213.4C564.3 212.7 566.6 212.2 568.0 212.4C569.4 212.6 570.8 213.3 571.6 214.6C572.4 215.9 572.4 219.1 572.6 220.0" stroke-width="1.2"/>
<path d="M562.5 225.0C562.5 224.2 562.6 221.3 562.8 220.0C563.0 218.7 563.1 217.9 563.6 217.2C564.1 216.5 565.0 215.8 565.6 216.0C566.2 216.2 566.7 217.3 567.0 218.6C567.3 219.9 567.9 222.7 567.6 224.0C567.3 225.3 565.8 226.2 565.4 226.6" stroke-width="1"/>
<path d="M572.6 220.0C572.7 219.3 572.8 217.0 573.4 216.0C574.0 215.0 575.0 214.2 576.0 213.8C577.0 213.4 578.1 213.1 579.6 213.4C581.1 213.7 583.4 214.6 585.0 215.4C586.6 216.2 588.8 217.6 589.5 218.0" stroke-width="1.2"/>
<path d="M572.0 224.0C572.8 224.7 575.2 226.8 577.0 228.0C578.8 229.2 581.3 230.5 583.0 231.2C584.7 231.9 586.3 232.2 587.0 232.4" stroke-width="1.2"/>
<ellipse cx="578.0" cy="220.6" rx="3.2" ry="6.6" transform="rotate(-28.0 578.0 220.6)" stroke-width="1.1"/>
<path d="M581.6 215.0C581.3 215.8 579.8 217.8 579.6 219.5C579.4 221.2 580.0 223.8 580.6 225.5C581.2 227.2 582.9 228.9 583.4 229.6" stroke-width="1"/>
<path d="M581.5 216.2 L588.4 219.6 L590.6 223.6 L589 230.4 L585 230.2 L581.4 226.4 L580.6 220.6 Z" class="k" stroke-width="0.8" fill-opacity="0.78"/>
<path d="M590.4 219.6C590.1 220.4 588.8 222.6 588.6 224.4C588.4 226.2 589.3 229.6 589.4 230.6" stroke-width="1.1"/>
<path d="M593.4 220.8C593.1 221.7 591.6 224.1 591.4 226.0C591.2 227.9 591.9 231.3 592.0 232.4" stroke-width="1"/>
<path d="M589.5 218.0C590.5 218.6 593.4 220.4 595.5 221.6C597.6 222.8 599.6 223.6 602.0 225.0C604.4 226.4 607.0 228.0 610.0 230.0C613.0 232.0 616.7 234.6 620.0 237.0C623.3 239.4 627.2 242.0 630.0 244.4C632.8 246.8 634.8 249.0 637.0 251.4C639.2 253.8 641.2 256.4 643.0 259.0C644.8 261.6 646.6 264.2 648.0 267.0C649.4 269.8 651.0 274.1 651.6 275.5" stroke-width="1.2"/>
<path d="M593 223.2 L602 227.6 L615 235.4 L623.4 239.8 L614 236.4 L601 230.4 Z" class="k" stroke-width="1"/>
<path d="M593.0 224.0C594.3 224.3 598.2 224.8 601.0 225.8C603.8 226.8 608.5 229.3 610.0 230.0" stroke-width="1"/>
<ellipse cx="650.2" cy="283.0" rx="4.2" ry="4.4" stroke-width="1.5"/>
<path d="M646.4 280.6C645.8 280.4 643.8 279.3 643.0 279.6C642.2 279.9 641.5 281.4 641.6 282.6C641.7 283.8 642.6 286.0 643.4 286.6C644.2 287.2 646.1 286.3 646.6 286.2" stroke-width="1.1"/>
<path d="M647.5 286.8C646.4 287.8 643.2 290.5 641.0 292.5C638.8 294.5 635.9 297.2 634.5 299.0C633.1 300.8 632.8 302.2 632.4 303.5C632.0 304.8 632.1 306.4 632.0 307.0" stroke-width="1.2"/>
<path d="M644.4 287.0C643.3 288.0 640.0 291.1 638.0 293.0C636.0 294.9 633.5 297.5 632.6 298.4" stroke-width="1"/>
<path d="M641.8 284.4C640.8 285.3 637.8 288.2 636.0 290.0C634.2 291.8 631.8 294.2 631.0 295.0" stroke-width="1"/>
<path d="M600.4 266.8L604.6 264.0L634.0 306.0L629.8 311.6L626.0 309.6" stroke-width="1.2"/>
<path d="M600.4 266.8L626.0 309.6" stroke-width="1.2"/>
<path d="M626.0 309.6L629.8 311.6" stroke-width="1.2"/>
<path d="M589.6 273.8L610.6 296.0" stroke-width="2.2"/>
<path d="M592.5 272.6L613.0 294.6" stroke-width="0.9"/>
<path d="M626.0 309.6C625.0 308.7 621.7 305.9 620.0 304.2C618.3 302.5 617.1 300.8 615.6 299.4C614.1 298.0 611.8 296.6 611.0 296.0" stroke-width="1.2"/>
<path d="M611.0 296.0C610.4 296.5 608.5 297.7 607.6 299.0C606.7 300.3 606.1 302.3 605.6 304.0C605.1 305.7 605.3 307.4 604.8 309.0C604.3 310.6 603.4 312.3 602.4 313.6C601.4 314.9 599.9 316.0 598.6 316.6C597.3 317.2 596.1 317.5 594.4 317.0C592.7 316.5 590.4 314.9 588.6 313.6C586.8 312.3 584.4 310.8 583.4 309.4C582.4 308.0 582.2 306.5 582.4 305.0C582.6 303.5 583.6 301.9 584.4 300.6C585.2 299.3 586.4 298.4 587.0 297.0C587.6 295.6 588.2 293.9 588.2 292.4C588.2 290.9 587.6 289.4 587.0 288.0C586.4 286.6 585.5 285.0 584.6 284.0C583.7 283.0 582.1 282.2 581.6 281.8" stroke-width="1.2"/>
<ellipse cx="598.2" cy="309.4" rx="3.3" ry="3.9" transform="rotate(-15.0 598.2 309.4)" stroke-width="1.7"/>
<ellipse cx="598.4" cy="309.6" rx="1.7" ry="2.3" transform="rotate(-15.0 598.4 309.6)" stroke-width="0.9"/>
<path d="M591.0 314.4C590.8 313.4 589.7 310.4 589.6 308.6C589.5 306.8 589.9 304.9 590.6 303.6C591.3 302.3 593.1 301.1 593.6 300.6" stroke-width="1"/>
<path d="M585.6 302.4C586.1 302.8 588.0 303.5 588.6 304.6C589.2 305.7 588.9 308.3 589.0 309.0" stroke-width="1"/>
<path d="M603.8 301.6C603.2 300.9 601.2 298.3 600.0 297.4C598.8 296.5 597.7 296.3 596.6 296.4C595.5 296.5 594.1 297.7 593.6 298.0" stroke-width="1"/>
<path d="M581.6 281.8C580.7 282.1 577.8 283.2 576.0 283.6C574.2 284.0 572.3 284.3 570.6 284.2C568.9 284.1 567.7 283.9 566.0 283.2C564.3 282.5 562.2 281.3 560.6 280.2C559.0 279.1 557.4 277.9 556.6 276.6C555.8 275.3 555.7 274.0 555.6 272.6C555.5 271.2 555.4 269.2 556.0 268.0C556.6 266.8 558.1 266.2 559.0 265.6C559.9 265.1 560.6 265.5 561.6 264.7C562.6 263.9 563.9 262.4 565.0 261.0C566.1 259.6 567.1 257.9 568.0 256.6C568.9 255.3 570.0 253.6 570.4 253.0" stroke-width="1.2"/>
<ellipse cx="571.6" cy="276.6" rx="3.3" ry="4.1" transform="rotate(-15.0 571.6 276.6)" stroke-width="1.7"/>
<ellipse cx="571.8" cy="276.8" rx="1.7" ry="2.4" transform="rotate(-15.0 571.8 276.8)" stroke-width="0.9"/>
<path d="M560.6 266.6C560.4 267.3 559.5 269.5 559.6 271.0C559.7 272.5 560.2 274.2 561.0 275.6C561.8 277.0 564.0 278.6 564.6 279.2" stroke-width="1"/>
<path d="M553.4 270.6C552.9 270.8 551.3 271.0 550.6 271.6C549.9 272.2 549.2 273.5 549.4 274.0C549.6 274.5 551.6 274.2 551.6 274.6C551.6 275.0 550.3 276.0 549.6 276.6C548.9 277.2 547.7 277.9 547.6 278.4C547.5 278.9 548.3 279.7 549.0 279.6C549.7 279.5 551.2 278.3 551.6 278.0" stroke-width="1.1"/>
<path d="M554.6 245.2C554.8 246.1 555.2 249.2 556.0 250.6C556.8 252.0 558.3 252.8 559.6 253.4C560.9 254.0 562.9 254.1 563.6 254.2" stroke-width="1.2"/>
<path d="M555.0 243.6C555.6 242.7 557.3 239.9 558.6 238.0C559.9 236.1 561.4 233.7 563.0 232.2C564.6 230.7 566.5 229.8 568.0 229.0C569.5 228.2 571.3 227.8 572.0 227.6" stroke-width="1.2"/>
<path d="M563.6 233.2C564.1 233.4 566.2 233.2 566.6 234.2C567.0 235.2 566.3 237.7 566.0 239.4C565.7 241.1 565.1 243.0 564.6 244.6C564.1 246.2 563.3 248.3 563.0 249.0" stroke-width="1"/>
<path d="M558.4 247.4C558.9 247.6 560.4 248.5 561.4 248.6C562.4 248.7 563.9 248.1 564.4 248.0" stroke-width="1"/>
<ellipse cx="564.2" cy="248.6" rx="1.7" ry="1.4" stroke-width="1"/>
<path d="M563.6 254.2C564.2 253.8 565.9 252.2 567.0 252.0C568.1 251.8 569.8 252.8 570.4 253.0" stroke-width="1"/>
<path d="M574.5 255.6L581.0 246.6L588.0 237.4L595.0 228.4" stroke-width="1.2"/>
<path d="M580.0 256.6L586.4 247.6L593.0 238.6L599.4 231.0" stroke-width="1.2"/>
<path d="M570.0 272.0L575.4 262.6L581.0 253.2" stroke-width="1.2"/>
<path d="M577.0 274.0L583.0 263.6L589.0 254.0" stroke-width="1.2"/>
<path d="M565.0 261.0L571.0 252.4L577.6 243.6" stroke-width="1"/>
<path d="M589.0 240.4L597.0 236.0L604.0 240.0L600.6 244.4L603.4 246.4L598.6 253.0L592.0 249.0L594.4 245.2Z" stroke-width="1.1"/>
<path d="M590.6 252.6L596.0 255.6L593.0 260.6L588.6 266.6" stroke-width="1"/>
<path d="M604.0 240.0L609.6 243.6L604.4 251.0L598.6 253.0" stroke-width="1"/>
<path d="M591.0 264.0C591.3 263.1 592.1 259.9 593.0 258.4C593.9 256.9 596.0 255.6 596.6 255.0" stroke-width="1"/>
<path d="M617.0 240.0C618.0 240.2 621.7 240.2 623.0 241.0C624.3 241.8 624.8 243.7 624.6 245.0C624.4 246.3 623.1 248.1 622.0 249.0C620.9 249.9 619.2 250.8 618.0 250.6C616.8 250.4 615.5 248.4 615.0 248.0" stroke-width="1.1"/>
<path d="M617.0 244.6C617.4 244.9 619.3 245.6 619.6 246.4C619.9 247.2 618.8 249.1 618.6 249.6" stroke-width="1"/>
<path d="M612.4 252.4L618.6 250.8L613.6 258.4L609.6 263.6L606.4 262.0" stroke-width="1.1"/>
<path d="M609.6 263.6L614.0 266.0" stroke-width="1"/>
<path d="M620.6 262.6L627.4 255.6L632.6 253.6L636.0 257.4L630.4 264.6" stroke-width="1.1"/>
<path d="M613.6 268.6L620.6 262.6L623.4 266.4L617.6 274.0" stroke-width="1.1"/>
<path d="M626.0 273.0L632.0 265.6L636.4 268.0L633.0 274.6L628.6 281.6" stroke-width="1.1"/>
<path d="M621.6 280.6L626.0 273.0L629.6 276.6" stroke-width="1"/>
<path d="M636.0 257.4L646.0 279.0" stroke-width="1"/>
<path d="M632.6 253.6L640.6 262.0L647.6 277.6" stroke-width="1"/>
<path d="M623.0 288.0L628.6 281.6L634.6 286.6L630.6 292.4" stroke-width="1"/>
<path d="M617.0 284.6L621.6 280.6" stroke-width="1"/>
<path d="M618.6 289.4 L623.6 294.6 L628.6 298.6 L629.6 296.6 L624.6 292.6 L620 287.6 Z" class="k" stroke-width="0.8"/>
<path d="M588.0 269.6C587.4 269.9 585.5 271.1 584.6 271.6C583.7 272.1 582.9 272.3 582.6 272.4" stroke-width="1"/>
<path d="M591.0 264.0 L593.0 258.4" stroke-width="1"/>
<path d="M598.6 194.4L598.6 214.0" stroke-dasharray="4 2.4" stroke-width="1.1"/>
<path d="M594.4 213.2 L599.2 213.2 L599.2 223.2 Z" class="k" stroke-width="0.6"/>
<path d="M563.4 180.4C563.0 180.4 561.3 180.0 560.8 180.6C560.3 181.2 560.4 182.9 560.4 184.0C560.4 185.1 560.1 186.8 560.6 187.4C561.1 188.0 562.9 187.7 563.4 187.8" stroke-width="1.2"/>
<path d="M563.4 180.2C564.2 180.1 566.4 179.7 568.0 179.4C569.6 179.1 571.4 178.7 573.0 178.6C574.6 178.5 576.3 178.7 577.6 179.0C578.9 179.3 580.2 179.7 580.8 180.2C581.4 180.7 581.5 181.6 581.0 182.0C580.5 182.4 579.1 182.5 578.0 182.6C576.9 182.7 575.2 182.4 574.6 182.4" stroke-width="1.1"/>
<path d="M574.6 182.4C574.8 182.7 575.9 183.7 576.0 184.4C576.1 185.1 575.4 185.8 575.0 186.4C574.6 187.0 574.3 187.6 573.6 188.0C572.9 188.4 572.1 188.9 571.0 189.0C569.9 189.1 568.3 189.0 567.0 188.8C565.7 188.6 564.0 188.0 563.4 187.8" stroke-width="1.1"/>
<path d="M563.4 180.2L563.4 187.8" stroke-width="1"/>
</g>
</svg>
</body></html>
